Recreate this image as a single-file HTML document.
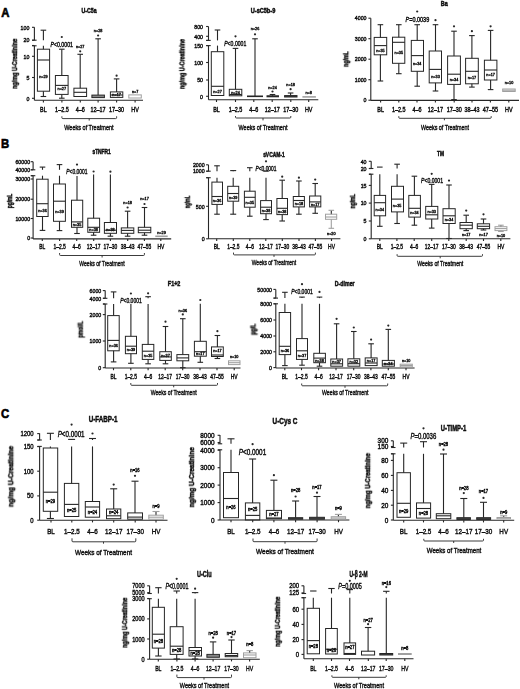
<!DOCTYPE html><html><head><meta charset="utf-8"><style>html,body{margin:0;padding:0;background:#fff;}svg{display:block;} text{font-family:"Liberation Sans",sans-serif;}</style></head><body>
<svg width="520" height="689" viewBox="0 0 520 689">
<defs><filter id="tb" x="-20%" y="-40%" width="140%" height="180%"><feGaussianBlur stdDeviation="0.3"/></filter></defs>
<rect x="0" y="0" width="520" height="689" fill="#fff"/>
<text transform="translate(5.30 16.94) scale(0.9 1)" font-size="12.6" font-weight="bold" text-anchor="middle" fill="#000" stroke="#000" stroke-width="0.6">A</text>
<text transform="translate(5.00 148.14) scale(0.9 1)" font-size="12.6" font-weight="bold" text-anchor="middle" fill="#000" stroke="#000" stroke-width="0.6">B</text>
<text transform="translate(5.00 417.84) scale(0.9 1)" font-size="12.6" font-weight="bold" text-anchor="middle" fill="#000" stroke="#000" stroke-width="0.6">C</text>
<line x1="34.40" y1="45.80" x2="34.40" y2="100.30" stroke="#262626" stroke-width="1.1"/>
<line x1="34.40" y1="27.30" x2="34.40" y2="40.20" stroke="#262626" stroke-width="1.1"/>
<line x1="32.20" y1="40.20" x2="36.60" y2="40.20" stroke="#262626" stroke-width="1.1"/>
<line x1="32.20" y1="45.80" x2="36.60" y2="45.80" stroke="#262626" stroke-width="1.1"/>
<line x1="32.00" y1="27.30" x2="34.40" y2="27.30" stroke="#262626" stroke-width="1.1"/>
<text transform="translate(29.40 29.53) scale(0.85 1)" font-size="6.2" font-weight="normal" font-style="normal" text-anchor="end" fill="#111" stroke="#111" stroke-width="0.42" filter="url(#tb)">100</text>
<line x1="32.00" y1="40.20" x2="34.40" y2="40.20" stroke="#262626" stroke-width="1.1"/>
<text transform="translate(29.40 42.43) scale(0.85 1)" font-size="6.2" font-weight="normal" font-style="normal" text-anchor="end" fill="#111" stroke="#111" stroke-width="0.42" filter="url(#tb)">20</text>
<line x1="32.00" y1="45.50" x2="34.40" y2="45.50" stroke="#262626" stroke-width="1.1"/>
<line x1="32.00" y1="56.30" x2="34.40" y2="56.30" stroke="#262626" stroke-width="1.1"/>
<text transform="translate(29.40 58.53) scale(0.85 1)" font-size="6.2" font-weight="normal" font-style="normal" text-anchor="end" fill="#111" stroke="#111" stroke-width="0.42" filter="url(#tb)">10</text>
<line x1="32.00" y1="77.50" x2="34.40" y2="77.50" stroke="#262626" stroke-width="1.1"/>
<text transform="translate(29.40 79.73) scale(0.85 1)" font-size="6.2" font-weight="normal" font-style="normal" text-anchor="end" fill="#111" stroke="#111" stroke-width="0.42" filter="url(#tb)">5</text>
<line x1="32.00" y1="98.30" x2="34.40" y2="98.30" stroke="#262626" stroke-width="1.1"/>
<text transform="translate(29.40 100.53) scale(0.85 1)" font-size="6.2" font-weight="normal" font-style="normal" text-anchor="end" fill="#111" stroke="#111" stroke-width="0.42" filter="url(#tb)">0</text>
<line x1="34.40" y1="100.30" x2="143.00" y2="100.30" stroke="#262626" stroke-width="1.1"/>
<line x1="43.40" y1="100.30" x2="43.40" y2="102.50" stroke="#262626" stroke-width="1.1"/>
<text transform="translate(43.40 111.80) scale(0.85 1)" font-size="6.4" font-weight="normal" font-style="normal" text-anchor="middle" fill="#111" stroke="#111" stroke-width="0.42" filter="url(#tb)">BL</text>
<line x1="61.90" y1="100.30" x2="61.90" y2="102.50" stroke="#262626" stroke-width="1.1"/>
<text transform="translate(61.90 111.80) scale(0.85 1)" font-size="6.4" font-weight="normal" font-style="normal" text-anchor="middle" fill="#111" stroke="#111" stroke-width="0.42" filter="url(#tb)">1–2.5</text>
<line x1="80.30" y1="100.30" x2="80.30" y2="102.50" stroke="#262626" stroke-width="1.1"/>
<text transform="translate(80.30 111.80) scale(0.85 1)" font-size="6.4" font-weight="normal" font-style="normal" text-anchor="middle" fill="#111" stroke="#111" stroke-width="0.42" filter="url(#tb)">4–6</text>
<line x1="98.10" y1="100.30" x2="98.10" y2="102.50" stroke="#262626" stroke-width="1.1"/>
<text transform="translate(98.10 111.80) scale(0.85 1)" font-size="6.4" font-weight="normal" font-style="normal" text-anchor="middle" fill="#111" stroke="#111" stroke-width="0.42" filter="url(#tb)">12–17</text>
<line x1="116.60" y1="100.30" x2="116.60" y2="102.50" stroke="#262626" stroke-width="1.1"/>
<text transform="translate(116.60 111.80) scale(0.85 1)" font-size="6.4" font-weight="normal" font-style="normal" text-anchor="middle" fill="#111" stroke="#111" stroke-width="0.42" filter="url(#tb)">17–30</text>
<line x1="135.10" y1="100.30" x2="135.10" y2="102.50" stroke="#262626" stroke-width="1.1"/>
<text transform="translate(135.10 111.80) scale(0.85 1)" font-size="6.4" font-weight="normal" font-style="normal" text-anchor="middle" fill="#111" stroke="#111" stroke-width="0.42" filter="url(#tb)">HV</text>
<line x1="43.40" y1="30.20" x2="43.40" y2="40.20" stroke="#262626" stroke-width="1.1"/>
<line x1="43.40" y1="45.80" x2="43.40" y2="49.20" stroke="#262626" stroke-width="1.1"/>
<line x1="40.60" y1="30.20" x2="46.20" y2="30.20" stroke="#262626" stroke-width="1.1"/>
<line x1="43.40" y1="91.20" x2="43.40" y2="96.50" stroke="#262626" stroke-width="1.1"/>
<line x1="40.60" y1="96.50" x2="46.20" y2="96.50" stroke="#262626" stroke-width="1.1"/>
<rect x="37.40" y="49.20" width="12.20" height="42.00" stroke="#262626" stroke-width="1.0" fill="none"/>
<line x1="37.40" y1="60.00" x2="49.60" y2="60.00" stroke="#262626" stroke-width="1.1"/>
<text transform="translate(43.40 78.01) scale(0.9 1)" font-size="4.2" font-weight="normal" font-style="normal" text-anchor="middle" fill="#111" stroke="#111" stroke-width="0.42" filter="url(#tb)">n=29</text>
<line x1="61.80" y1="49.20" x2="61.80" y2="75.50" stroke="#262626" stroke-width="1.1"/>
<line x1="59.00" y1="49.20" x2="64.60" y2="49.20" stroke="#262626" stroke-width="1.1"/>
<line x1="61.80" y1="94.40" x2="61.80" y2="98.20" stroke="#262626" stroke-width="1.1"/>
<line x1="59.00" y1="98.20" x2="64.60" y2="98.20" stroke="#262626" stroke-width="1.1"/>
<rect x="55.40" y="75.50" width="12.70" height="18.90" stroke="#262626" stroke-width="1.0" fill="none"/>
<line x1="55.40" y1="85.40" x2="68.10" y2="85.40" stroke="#262626" stroke-width="1.1"/>
<circle cx="61.80" cy="37.00" r="1.1" fill="#262626"/>
<text transform="translate(61.80 90.11) scale(0.9 1)" font-size="4.2" font-weight="normal" font-style="normal" text-anchor="middle" fill="#111" stroke="#111" stroke-width="0.42" filter="url(#tb)">n=27</text>
<line x1="80.20" y1="54.30" x2="80.20" y2="88.20" stroke="#262626" stroke-width="1.1"/>
<line x1="77.40" y1="54.30" x2="83.00" y2="54.30" stroke="#262626" stroke-width="1.1"/>
<rect x="73.90" y="88.20" width="12.70" height="8.30" stroke="#262626" stroke-width="1.0" fill="none"/>
<line x1="73.90" y1="92.30" x2="86.60" y2="92.30" stroke="#262626" stroke-width="1.1"/>
<circle cx="80.20" cy="51.30" r="1.1" fill="#262626"/>
<text transform="translate(80.20 47.51) scale(0.9 1)" font-size="4.2" font-weight="normal" font-style="normal" text-anchor="middle" fill="#111" stroke="#111" stroke-width="0.42" filter="url(#tb)">n=27</text>
<line x1="98.10" y1="38.80" x2="98.10" y2="95.10" stroke="#262626" stroke-width="1.1"/>
<line x1="95.30" y1="38.80" x2="100.90" y2="38.80" stroke="#262626" stroke-width="1.1"/>
<rect x="91.90" y="95.10" width="12.50" height="2.50" stroke="#262626" stroke-width="1.0" fill="#888"/>
<circle cx="98.10" cy="35.50" r="1.1" fill="#262626"/>
<text transform="translate(98.10 32.01) scale(0.9 1)" font-size="4.2" font-weight="normal" font-style="normal" text-anchor="middle" fill="#111" stroke="#111" stroke-width="0.42" filter="url(#tb)">n=28</text>
<line x1="116.60" y1="78.90" x2="116.60" y2="91.90" stroke="#262626" stroke-width="1.1"/>
<line x1="113.80" y1="78.90" x2="119.40" y2="78.90" stroke="#262626" stroke-width="1.1"/>
<rect x="110.40" y="91.90" width="12.40" height="5.50" stroke="#262626" stroke-width="1.0" fill="none"/>
<line x1="110.40" y1="95.00" x2="122.80" y2="95.00" stroke="#262626" stroke-width="1.1"/>
<circle cx="116.60" cy="75.70" r="1.1" fill="#262626"/>
<text transform="translate(116.60 95.81) scale(0.9 1)" font-size="4.2" font-weight="normal" font-style="normal" text-anchor="middle" fill="#111" stroke="#111" stroke-width="0.42" filter="url(#tb)">n=17</text>
<rect x="128.80" y="94.90" width="12.50" height="3.10" stroke="#a0a0a0" stroke-width="1.0" fill="none"/>
<text transform="translate(135.10 93.11) scale(0.9 1)" font-size="4.2" font-weight="normal" font-style="normal" text-anchor="middle" fill="#111" stroke="#111" stroke-width="0.42" filter="url(#tb)">n=7</text>
<path d="M61.90 116.30 L61.90 117.80 Q61.90 118.60 62.90 118.60 L115.60 118.60 Q116.60 118.60 116.60 117.80 L116.60 116.30 M89.20 118.60 L89.20 120.60" stroke="#262626" stroke-width="0.9" fill="none"/>
<text transform="translate(88.90 129.54) scale(1.0 1)" font-size="7.6" font-weight="normal" font-style="normal" text-anchor="middle" fill="#111" stroke="#111" stroke-width="0.42" filter="url(#tb)" textLength="49.40" lengthAdjust="spacingAndGlyphs">Weeks of Treatment</text>
<text transform="translate(89.10 12.85) scale(1.0 1)" font-size="6.8" font-weight="bold" font-style="normal" text-anchor="middle" fill="#111" stroke="#111" stroke-width="0.5" filter="url(#tb)" textLength="15.00" lengthAdjust="spacingAndGlyphs">U-C5a</text>
<text transform="translate(17.05 63.70) rotate(-90) scale(1.0 1)" font-size="6.8" font-weight="bold" font-style="normal" text-anchor="middle" fill="#111" stroke="#111" stroke-width="0.5" filter="url(#tb)" textLength="50.00" lengthAdjust="spacingAndGlyphs">ng/mg U-Creatinine</text>
<text transform="translate(50.40 47.12)" font-size="7.0" fill="#111" stroke="#111" stroke-width="0.42" filter="url(#tb)" textLength="22.60" lengthAdjust="spacingAndGlyphs"><tspan font-style="italic">P</tspan>&lt;0.0001</text>
<line x1="208.50" y1="45.60" x2="208.50" y2="99.80" stroke="#262626" stroke-width="1.1"/>
<line x1="208.50" y1="26.50" x2="208.50" y2="40.40" stroke="#262626" stroke-width="1.1"/>
<line x1="206.30" y1="40.40" x2="210.70" y2="40.40" stroke="#262626" stroke-width="1.1"/>
<line x1="206.30" y1="45.60" x2="210.70" y2="45.60" stroke="#262626" stroke-width="1.1"/>
<line x1="206.10" y1="26.50" x2="208.50" y2="26.50" stroke="#262626" stroke-width="1.1"/>
<text transform="translate(203.00 28.73) scale(0.85 1)" font-size="6.2" font-weight="normal" font-style="normal" text-anchor="end" fill="#111" stroke="#111" stroke-width="0.42" filter="url(#tb)">800</text>
<line x1="206.10" y1="36.30" x2="208.50" y2="36.30" stroke="#262626" stroke-width="1.1"/>
<text transform="translate(203.00 38.53) scale(0.85 1)" font-size="6.2" font-weight="normal" font-style="normal" text-anchor="end" fill="#111" stroke="#111" stroke-width="0.42" filter="url(#tb)">400</text>
<line x1="206.10" y1="40.40" x2="208.50" y2="40.40" stroke="#262626" stroke-width="1.1"/>
<line x1="206.10" y1="45.60" x2="208.50" y2="45.60" stroke="#262626" stroke-width="1.1"/>
<text transform="translate(203.00 47.83) scale(0.85 1)" font-size="6.2" font-weight="normal" font-style="normal" text-anchor="end" fill="#111" stroke="#111" stroke-width="0.42" filter="url(#tb)">150</text>
<line x1="206.10" y1="62.50" x2="208.50" y2="62.50" stroke="#262626" stroke-width="1.1"/>
<text transform="translate(203.00 64.73) scale(0.85 1)" font-size="6.2" font-weight="normal" font-style="normal" text-anchor="end" fill="#111" stroke="#111" stroke-width="0.42" filter="url(#tb)">100</text>
<line x1="206.10" y1="80.00" x2="208.50" y2="80.00" stroke="#262626" stroke-width="1.1"/>
<text transform="translate(203.00 82.23) scale(0.85 1)" font-size="6.2" font-weight="normal" font-style="normal" text-anchor="end" fill="#111" stroke="#111" stroke-width="0.42" filter="url(#tb)">50</text>
<line x1="206.10" y1="96.30" x2="208.50" y2="96.30" stroke="#262626" stroke-width="1.1"/>
<text transform="translate(203.00 98.53) scale(0.85 1)" font-size="6.2" font-weight="normal" font-style="normal" text-anchor="end" fill="#111" stroke="#111" stroke-width="0.42" filter="url(#tb)">0</text>
<line x1="208.50" y1="99.80" x2="318.30" y2="99.80" stroke="#262626" stroke-width="1.1"/>
<line x1="216.50" y1="99.80" x2="216.50" y2="102.00" stroke="#262626" stroke-width="1.1"/>
<text transform="translate(216.50 111.50) scale(0.85 1)" font-size="6.4" font-weight="normal" font-style="normal" text-anchor="middle" fill="#111" stroke="#111" stroke-width="0.42" filter="url(#tb)">BL</text>
<line x1="235.50" y1="99.80" x2="235.50" y2="102.00" stroke="#262626" stroke-width="1.1"/>
<text transform="translate(235.50 111.50) scale(0.85 1)" font-size="6.4" font-weight="normal" font-style="normal" text-anchor="middle" fill="#111" stroke="#111" stroke-width="0.42" filter="url(#tb)">1–2.5</text>
<line x1="253.80" y1="99.80" x2="253.80" y2="102.00" stroke="#262626" stroke-width="1.1"/>
<text transform="translate(253.80 111.50) scale(0.85 1)" font-size="6.4" font-weight="normal" font-style="normal" text-anchor="middle" fill="#111" stroke="#111" stroke-width="0.42" filter="url(#tb)">4–6</text>
<line x1="272.20" y1="99.80" x2="272.20" y2="102.00" stroke="#262626" stroke-width="1.1"/>
<text transform="translate(272.20 111.50) scale(0.85 1)" font-size="6.4" font-weight="normal" font-style="normal" text-anchor="middle" fill="#111" stroke="#111" stroke-width="0.42" filter="url(#tb)">12–17</text>
<line x1="290.80" y1="99.80" x2="290.80" y2="102.00" stroke="#262626" stroke-width="1.1"/>
<text transform="translate(290.80 111.50) scale(0.85 1)" font-size="6.4" font-weight="normal" font-style="normal" text-anchor="middle" fill="#111" stroke="#111" stroke-width="0.42" filter="url(#tb)">17–30</text>
<line x1="308.70" y1="99.80" x2="308.70" y2="102.00" stroke="#262626" stroke-width="1.1"/>
<text transform="translate(308.70 111.50) scale(0.85 1)" font-size="6.4" font-weight="normal" font-style="normal" text-anchor="middle" fill="#111" stroke="#111" stroke-width="0.42" filter="url(#tb)">HV</text>
<line x1="217.50" y1="30.00" x2="217.50" y2="40.40" stroke="#262626" stroke-width="1.1"/>
<line x1="217.50" y1="45.60" x2="217.50" y2="51.70" stroke="#262626" stroke-width="1.1"/>
<line x1="214.70" y1="30.00" x2="220.30" y2="30.00" stroke="#262626" stroke-width="1.1"/>
<rect x="211.30" y="51.70" width="12.50" height="43.80" stroke="#262626" stroke-width="1.0" fill="none"/>
<line x1="211.30" y1="86.30" x2="223.80" y2="86.30" stroke="#262626" stroke-width="1.1"/>
<text transform="translate(217.50 92.81) scale(0.9 1)" font-size="4.2" font-weight="normal" font-style="normal" text-anchor="middle" fill="#111" stroke="#111" stroke-width="0.42" filter="url(#tb)">n=27</text>
<line x1="235.50" y1="48.40" x2="235.50" y2="89.30" stroke="#262626" stroke-width="1.1"/>
<line x1="232.70" y1="48.40" x2="238.30" y2="48.40" stroke="#262626" stroke-width="1.1"/>
<rect x="229.30" y="89.30" width="12.50" height="6.50" stroke="#262626" stroke-width="1.0" fill="none"/>
<line x1="229.30" y1="94.50" x2="241.80" y2="94.50" stroke="#262626" stroke-width="1.1"/>
<circle cx="235.50" cy="36.30" r="1.1" fill="#262626"/>
<text transform="translate(235.50 94.01) scale(0.9 1)" font-size="4.2" font-weight="normal" font-style="normal" text-anchor="middle" fill="#111" stroke="#111" stroke-width="0.42" filter="url(#tb)">n=24</text>
<line x1="255.00" y1="38.80" x2="255.00" y2="96.00" stroke="#262626" stroke-width="1.1"/>
<line x1="252.20" y1="38.80" x2="257.80" y2="38.80" stroke="#262626" stroke-width="1.1"/>
<rect x="247.50" y="96.00" width="15.00" height="0.60" stroke="#262626" stroke-width="1.0" fill="#444"/>
<circle cx="255.00" cy="34.30" r="1.1" fill="#262626"/>
<text transform="translate(255.00 30.31) scale(0.9 1)" font-size="4.2" font-weight="normal" font-style="normal" text-anchor="middle" fill="#111" stroke="#111" stroke-width="0.42" filter="url(#tb)">n=26</text>
<line x1="272.50" y1="94.50" x2="272.50" y2="95.80" stroke="#262626" stroke-width="1.1"/>
<line x1="269.70" y1="94.50" x2="275.30" y2="94.50" stroke="#262626" stroke-width="1.1"/>
<rect x="267.00" y="95.80" width="11.50" height="1.00" stroke="#262626" stroke-width="1.0" fill="#444"/>
<circle cx="272.50" cy="91.50" r="1.1" fill="#262626"/>
<text transform="translate(272.50 89.21) scale(0.9 1)" font-size="4.2" font-weight="normal" font-style="normal" text-anchor="middle" fill="#111" stroke="#111" stroke-width="0.42" filter="url(#tb)">n=24</text>
<line x1="290.60" y1="93.00" x2="290.60" y2="95.60" stroke="#262626" stroke-width="1.1"/>
<line x1="287.80" y1="93.00" x2="293.40" y2="93.00" stroke="#262626" stroke-width="1.1"/>
<rect x="284.60" y="95.60" width="12.40" height="1.40" stroke="#262626" stroke-width="1.0" fill="#444"/>
<circle cx="290.60" cy="89.20" r="1.1" fill="#262626"/>
<text transform="translate(290.60 85.91) scale(0.9 1)" font-size="4.2" font-weight="normal" font-style="normal" text-anchor="middle" fill="#111" stroke="#111" stroke-width="0.42" filter="url(#tb)">n=18</text>
<rect x="302.90" y="96.60" width="12.50" height="0.60" stroke="#a0a0a0" stroke-width="1.0" fill="none"/>
<text transform="translate(308.70 93.51) scale(0.9 1)" font-size="4.2" font-weight="normal" font-style="normal" text-anchor="middle" fill="#111" stroke="#111" stroke-width="0.42" filter="url(#tb)">n=8</text>
<path d="M235.50 116.00 L235.50 117.20 Q235.50 118.00 236.50 118.00 L289.80 118.00 Q290.80 118.00 290.80 117.20 L290.80 116.00 M263.00 118.00 L263.00 120.40" stroke="#262626" stroke-width="0.9" fill="none"/>
<text transform="translate(263.00 129.84) scale(1.0 1)" font-size="7.6" font-weight="normal" font-style="normal" text-anchor="middle" fill="#111" stroke="#111" stroke-width="0.42" filter="url(#tb)" textLength="49.00" lengthAdjust="spacingAndGlyphs">Weeks of Treatment</text>
<text transform="translate(263.00 13.05) scale(1.0 1)" font-size="6.8" font-weight="bold" font-style="normal" text-anchor="middle" fill="#111" stroke="#111" stroke-width="0.5" filter="url(#tb)" textLength="24.50" lengthAdjust="spacingAndGlyphs">U-sC5b-9</text>
<text transform="translate(184.45 64.00) rotate(-90) scale(1.0 1)" font-size="6.8" font-weight="bold" font-style="normal" text-anchor="middle" fill="#111" stroke="#111" stroke-width="0.5" filter="url(#tb)" textLength="50.00" lengthAdjust="spacingAndGlyphs">ng/mg U-Creatinine</text>
<text transform="translate(224.20 46.02)" font-size="7.0" fill="#111" stroke="#111" stroke-width="0.42" filter="url(#tb)" textLength="22.10" lengthAdjust="spacingAndGlyphs"><tspan font-style="italic">P</tspan>&lt;0.0001</text>
<line x1="370.80" y1="18.20" x2="370.80" y2="100.40" stroke="#262626" stroke-width="1.1"/>
<line x1="368.40" y1="18.20" x2="370.80" y2="18.20" stroke="#262626" stroke-width="1.1"/>
<text transform="translate(366.50 20.43) scale(0.85 1)" font-size="6.2" font-weight="normal" font-style="normal" text-anchor="end" fill="#111" stroke="#111" stroke-width="0.42" filter="url(#tb)">4000</text>
<line x1="368.40" y1="38.70" x2="370.80" y2="38.70" stroke="#262626" stroke-width="1.1"/>
<text transform="translate(366.50 40.93) scale(0.85 1)" font-size="6.2" font-weight="normal" font-style="normal" text-anchor="end" fill="#111" stroke="#111" stroke-width="0.42" filter="url(#tb)">3000</text>
<line x1="368.40" y1="59.20" x2="370.80" y2="59.20" stroke="#262626" stroke-width="1.1"/>
<text transform="translate(366.50 61.43) scale(0.85 1)" font-size="6.2" font-weight="normal" font-style="normal" text-anchor="end" fill="#111" stroke="#111" stroke-width="0.42" filter="url(#tb)">2000</text>
<line x1="368.40" y1="79.70" x2="370.80" y2="79.70" stroke="#262626" stroke-width="1.1"/>
<text transform="translate(366.50 81.93) scale(0.85 1)" font-size="6.2" font-weight="normal" font-style="normal" text-anchor="end" fill="#111" stroke="#111" stroke-width="0.42" filter="url(#tb)">1000</text>
<line x1="368.40" y1="100.20" x2="370.80" y2="100.20" stroke="#262626" stroke-width="1.1"/>
<text transform="translate(366.50 102.43) scale(0.85 1)" font-size="6.2" font-weight="normal" font-style="normal" text-anchor="end" fill="#111" stroke="#111" stroke-width="0.42" filter="url(#tb)">0</text>
<line x1="370.80" y1="100.40" x2="519.00" y2="100.40" stroke="#262626" stroke-width="1.1"/>
<line x1="380.60" y1="100.40" x2="380.60" y2="102.60" stroke="#262626" stroke-width="1.1"/>
<text transform="translate(380.60 111.80) scale(0.85 1)" font-size="6.4" font-weight="normal" font-style="normal" text-anchor="middle" fill="#111" stroke="#111" stroke-width="0.42" filter="url(#tb)">BL</text>
<line x1="398.80" y1="100.40" x2="398.80" y2="102.60" stroke="#262626" stroke-width="1.1"/>
<text transform="translate(398.80 111.80) scale(0.85 1)" font-size="6.4" font-weight="normal" font-style="normal" text-anchor="middle" fill="#111" stroke="#111" stroke-width="0.42" filter="url(#tb)">1–2.5</text>
<line x1="417.00" y1="100.40" x2="417.00" y2="102.60" stroke="#262626" stroke-width="1.1"/>
<text transform="translate(417.00 111.80) scale(0.85 1)" font-size="6.4" font-weight="normal" font-style="normal" text-anchor="middle" fill="#111" stroke="#111" stroke-width="0.42" filter="url(#tb)">4–6</text>
<line x1="435.40" y1="100.40" x2="435.40" y2="102.60" stroke="#262626" stroke-width="1.1"/>
<text transform="translate(435.40 111.80) scale(0.85 1)" font-size="6.4" font-weight="normal" font-style="normal" text-anchor="middle" fill="#111" stroke="#111" stroke-width="0.42" filter="url(#tb)">12–17</text>
<line x1="454.20" y1="100.40" x2="454.20" y2="102.60" stroke="#262626" stroke-width="1.1"/>
<text transform="translate(454.20 111.80) scale(0.85 1)" font-size="6.4" font-weight="normal" font-style="normal" text-anchor="middle" fill="#111" stroke="#111" stroke-width="0.42" filter="url(#tb)">17–30</text>
<line x1="472.00" y1="100.40" x2="472.00" y2="102.60" stroke="#262626" stroke-width="1.1"/>
<text transform="translate(472.00 111.80) scale(0.85 1)" font-size="6.4" font-weight="normal" font-style="normal" text-anchor="middle" fill="#111" stroke="#111" stroke-width="0.42" filter="url(#tb)">38–43</text>
<line x1="490.40" y1="100.40" x2="490.40" y2="102.60" stroke="#262626" stroke-width="1.1"/>
<text transform="translate(490.40 111.80) scale(0.85 1)" font-size="6.4" font-weight="normal" font-style="normal" text-anchor="middle" fill="#111" stroke="#111" stroke-width="0.42" filter="url(#tb)">47–55</text>
<line x1="508.80" y1="100.40" x2="508.80" y2="102.60" stroke="#262626" stroke-width="1.1"/>
<text transform="translate(508.80 111.80) scale(0.85 1)" font-size="6.4" font-weight="normal" font-style="normal" text-anchor="middle" fill="#111" stroke="#111" stroke-width="0.42" filter="url(#tb)">HV</text>
<line x1="380.40" y1="24.70" x2="380.40" y2="37.40" stroke="#262626" stroke-width="1.1"/>
<line x1="377.60" y1="24.70" x2="383.20" y2="24.70" stroke="#262626" stroke-width="1.1"/>
<line x1="380.40" y1="54.80" x2="380.40" y2="81.00" stroke="#262626" stroke-width="1.1"/>
<line x1="377.60" y1="81.00" x2="383.20" y2="81.00" stroke="#262626" stroke-width="1.1"/>
<rect x="374.20" y="37.40" width="12.50" height="17.40" stroke="#262626" stroke-width="1.0" fill="none"/>
<line x1="374.20" y1="45.60" x2="386.70" y2="45.60" stroke="#262626" stroke-width="1.1"/>
<text transform="translate(380.40 51.91) scale(0.9 1)" font-size="4.2" font-weight="normal" font-style="normal" text-anchor="middle" fill="#111" stroke="#111" stroke-width="0.42" filter="url(#tb)">n=35</text>
<line x1="398.80" y1="24.70" x2="398.80" y2="37.20" stroke="#262626" stroke-width="1.1"/>
<line x1="396.00" y1="24.70" x2="401.60" y2="24.70" stroke="#262626" stroke-width="1.1"/>
<line x1="398.80" y1="63.30" x2="398.80" y2="73.70" stroke="#262626" stroke-width="1.1"/>
<line x1="396.00" y1="73.70" x2="401.60" y2="73.70" stroke="#262626" stroke-width="1.1"/>
<rect x="392.50" y="37.20" width="12.30" height="26.10" stroke="#262626" stroke-width="1.0" fill="none"/>
<line x1="392.50" y1="42.30" x2="404.80" y2="42.30" stroke="#262626" stroke-width="1.1"/>
<text transform="translate(398.80 54.41) scale(0.9 1)" font-size="4.2" font-weight="normal" font-style="normal" text-anchor="middle" fill="#111" stroke="#111" stroke-width="0.42" filter="url(#tb)">n=35</text>
<line x1="417.20" y1="24.70" x2="417.20" y2="40.40" stroke="#262626" stroke-width="1.1"/>
<line x1="414.40" y1="24.70" x2="420.00" y2="24.70" stroke="#262626" stroke-width="1.1"/>
<line x1="417.20" y1="71.30" x2="417.20" y2="86.20" stroke="#262626" stroke-width="1.1"/>
<line x1="414.40" y1="86.20" x2="420.00" y2="86.20" stroke="#262626" stroke-width="1.1"/>
<rect x="411.30" y="40.40" width="12.20" height="30.90" stroke="#262626" stroke-width="1.0" fill="none"/>
<line x1="411.30" y1="55.60" x2="423.50" y2="55.60" stroke="#262626" stroke-width="1.1"/>
<circle cx="417.20" cy="11.50" r="1.1" fill="#262626"/>
<text transform="translate(417.20 64.51) scale(0.9 1)" font-size="4.2" font-weight="normal" font-style="normal" text-anchor="middle" fill="#111" stroke="#111" stroke-width="0.42" filter="url(#tb)">n=34</text>
<line x1="435.50" y1="24.70" x2="435.50" y2="51.00" stroke="#262626" stroke-width="1.1"/>
<line x1="432.70" y1="24.70" x2="438.30" y2="24.70" stroke="#262626" stroke-width="1.1"/>
<line x1="435.50" y1="82.90" x2="435.50" y2="91.00" stroke="#262626" stroke-width="1.1"/>
<line x1="432.70" y1="91.00" x2="438.30" y2="91.00" stroke="#262626" stroke-width="1.1"/>
<rect x="429.20" y="51.00" width="12.30" height="31.90" stroke="#262626" stroke-width="1.0" fill="none"/>
<line x1="429.20" y1="69.40" x2="441.50" y2="69.40" stroke="#262626" stroke-width="1.1"/>
<circle cx="435.50" cy="20.20" r="1.1" fill="#262626"/>
<text transform="translate(435.50 77.71) scale(0.9 1)" font-size="4.2" font-weight="normal" font-style="normal" text-anchor="middle" fill="#111" stroke="#111" stroke-width="0.42" filter="url(#tb)">n=33</text>
<line x1="454.00" y1="31.20" x2="454.00" y2="56.00" stroke="#262626" stroke-width="1.1"/>
<line x1="451.20" y1="31.20" x2="456.80" y2="31.20" stroke="#262626" stroke-width="1.1"/>
<line x1="454.00" y1="84.40" x2="454.00" y2="99.60" stroke="#262626" stroke-width="1.1"/>
<line x1="451.20" y1="99.60" x2="456.80" y2="99.60" stroke="#262626" stroke-width="1.1"/>
<rect x="447.60" y="56.00" width="12.80" height="28.40" stroke="#262626" stroke-width="1.0" fill="none"/>
<line x1="447.60" y1="74.20" x2="460.40" y2="74.20" stroke="#262626" stroke-width="1.1"/>
<circle cx="454.00" cy="26.30" r="1.1" fill="#262626"/>
<text transform="translate(454.00 80.91) scale(0.9 1)" font-size="4.2" font-weight="normal" font-style="normal" text-anchor="middle" fill="#111" stroke="#111" stroke-width="0.42" filter="url(#tb)">n=34</text>
<line x1="471.90" y1="35.60" x2="471.90" y2="58.30" stroke="#262626" stroke-width="1.1"/>
<line x1="469.10" y1="35.60" x2="474.70" y2="35.60" stroke="#262626" stroke-width="1.1"/>
<line x1="471.90" y1="83.80" x2="471.90" y2="87.10" stroke="#262626" stroke-width="1.1"/>
<line x1="469.10" y1="87.10" x2="474.70" y2="87.10" stroke="#262626" stroke-width="1.1"/>
<rect x="465.60" y="58.30" width="12.70" height="25.50" stroke="#262626" stroke-width="1.0" fill="none"/>
<line x1="465.60" y1="71.30" x2="478.30" y2="71.30" stroke="#262626" stroke-width="1.1"/>
<circle cx="471.90" cy="31.20" r="1.1" fill="#262626"/>
<text transform="translate(471.90 78.61) scale(0.9 1)" font-size="4.2" font-weight="normal" font-style="normal" text-anchor="middle" fill="#111" stroke="#111" stroke-width="0.42" filter="url(#tb)">n=17</text>
<line x1="490.60" y1="30.40" x2="490.60" y2="60.20" stroke="#262626" stroke-width="1.1"/>
<line x1="487.80" y1="30.40" x2="493.40" y2="30.40" stroke="#262626" stroke-width="1.1"/>
<line x1="490.60" y1="80.00" x2="490.60" y2="89.60" stroke="#262626" stroke-width="1.1"/>
<line x1="487.80" y1="89.60" x2="493.40" y2="89.60" stroke="#262626" stroke-width="1.1"/>
<rect x="484.40" y="60.20" width="12.50" height="19.80" stroke="#262626" stroke-width="1.0" fill="none"/>
<line x1="484.40" y1="70.00" x2="496.90" y2="70.00" stroke="#262626" stroke-width="1.1"/>
<circle cx="490.60" cy="26.30" r="1.1" fill="#262626"/>
<text transform="translate(490.60 76.31) scale(0.9 1)" font-size="4.2" font-weight="normal" font-style="normal" text-anchor="middle" fill="#111" stroke="#111" stroke-width="0.42" filter="url(#tb)">n=17</text>
<rect x="502.70" y="89.00" width="12.50" height="2.50" stroke="#a0a0a0" stroke-width="1.0" fill="none"/>
<line x1="502.70" y1="90.20" x2="515.20" y2="90.20" stroke="#a0a0a0" stroke-width="1.1"/>
<text transform="translate(509.00 84.41) scale(0.9 1)" font-size="4.2" font-weight="normal" font-style="normal" text-anchor="middle" fill="#111" stroke="#111" stroke-width="0.42" filter="url(#tb)">n=10</text>
<path d="M398.80 116.20 L398.80 117.50 Q398.80 118.30 399.80 118.30 L490.20 118.30 Q491.20 118.30 491.20 117.50 L491.20 116.20 M444.40 118.30 L444.40 120.30" stroke="#262626" stroke-width="0.9" fill="none"/>
<text transform="translate(445.00 129.84) scale(1.0 1)" font-size="7.6" font-weight="normal" font-style="normal" text-anchor="middle" fill="#111" stroke="#111" stroke-width="0.42" filter="url(#tb)" textLength="48.00" lengthAdjust="spacingAndGlyphs">Weeks of Treatment</text>
<text transform="translate(444.30 6.25) scale(1.0 1)" font-size="6.8" font-weight="bold" font-style="normal" text-anchor="middle" fill="#111" stroke="#111" stroke-width="0.5" filter="url(#tb)" textLength="7.00" lengthAdjust="spacingAndGlyphs">Ba</text>
<text transform="translate(348.25 59.10) rotate(-90) scale(1.0 1)" font-size="6.8" font-weight="bold" font-style="normal" text-anchor="middle" fill="#111" stroke="#111" stroke-width="0.5" filter="url(#tb)" textLength="15.60" lengthAdjust="spacingAndGlyphs">ng/mL</text>
<text transform="translate(405.60 21.72)" font-size="7.0" fill="#111" stroke="#111" stroke-width="0.42" filter="url(#tb)" textLength="23.60" lengthAdjust="spacingAndGlyphs"><tspan font-style="italic">P</tspan>=0.0039</text>
<line x1="33.10" y1="175.70" x2="33.10" y2="238.90" stroke="#262626" stroke-width="1.1"/>
<line x1="33.10" y1="161.70" x2="33.10" y2="169.80" stroke="#262626" stroke-width="1.1"/>
<line x1="30.90" y1="169.80" x2="35.30" y2="169.80" stroke="#262626" stroke-width="1.1"/>
<line x1="30.90" y1="175.70" x2="35.30" y2="175.70" stroke="#262626" stroke-width="1.1"/>
<line x1="30.70" y1="161.70" x2="33.10" y2="161.70" stroke="#262626" stroke-width="1.1"/>
<text transform="translate(30.10 163.93) scale(0.85 1)" font-size="6.2" font-weight="normal" font-style="normal" text-anchor="end" fill="#111" stroke="#111" stroke-width="0.42" filter="url(#tb)">60000</text>
<line x1="30.70" y1="169.80" x2="33.10" y2="169.80" stroke="#262626" stroke-width="1.1"/>
<text transform="translate(30.10 172.03) scale(0.85 1)" font-size="6.2" font-weight="normal" font-style="normal" text-anchor="end" fill="#111" stroke="#111" stroke-width="0.42" filter="url(#tb)">40000</text>
<line x1="30.70" y1="175.70" x2="33.10" y2="175.70" stroke="#262626" stroke-width="1.1"/>
<line x1="30.70" y1="179.00" x2="33.10" y2="179.00" stroke="#262626" stroke-width="1.1"/>
<text transform="translate(30.10 181.23) scale(0.85 1)" font-size="6.2" font-weight="normal" font-style="normal" text-anchor="end" fill="#111" stroke="#111" stroke-width="0.42" filter="url(#tb)">30000</text>
<line x1="30.70" y1="199.20" x2="33.10" y2="199.20" stroke="#262626" stroke-width="1.1"/>
<text transform="translate(30.10 201.43) scale(0.85 1)" font-size="6.2" font-weight="normal" font-style="normal" text-anchor="end" fill="#111" stroke="#111" stroke-width="0.42" filter="url(#tb)">20000</text>
<line x1="30.70" y1="218.50" x2="33.10" y2="218.50" stroke="#262626" stroke-width="1.1"/>
<text transform="translate(30.10 220.73) scale(0.85 1)" font-size="6.2" font-weight="normal" font-style="normal" text-anchor="end" fill="#111" stroke="#111" stroke-width="0.42" filter="url(#tb)">10000</text>
<line x1="30.70" y1="238.00" x2="33.10" y2="238.00" stroke="#262626" stroke-width="1.1"/>
<text transform="translate(30.10 240.23) scale(0.85 1)" font-size="6.2" font-weight="normal" font-style="normal" text-anchor="end" fill="#111" stroke="#111" stroke-width="0.42" filter="url(#tb)">0</text>
<line x1="33.10" y1="238.90" x2="171.20" y2="238.90" stroke="#262626" stroke-width="1.1"/>
<line x1="42.30" y1="238.90" x2="42.30" y2="241.10" stroke="#262626" stroke-width="1.1"/>
<text transform="translate(42.30 249.30) scale(0.77 1)" font-size="6.4" font-weight="normal" font-style="normal" text-anchor="middle" fill="#111" stroke="#111" stroke-width="0.42" filter="url(#tb)">BL</text>
<line x1="59.60" y1="238.90" x2="59.60" y2="241.10" stroke="#262626" stroke-width="1.1"/>
<text transform="translate(59.60 249.30) scale(0.77 1)" font-size="6.4" font-weight="normal" font-style="normal" text-anchor="middle" fill="#111" stroke="#111" stroke-width="0.42" filter="url(#tb)">1–2.5</text>
<line x1="76.70" y1="238.90" x2="76.70" y2="241.10" stroke="#262626" stroke-width="1.1"/>
<text transform="translate(76.70 249.30) scale(0.77 1)" font-size="6.4" font-weight="normal" font-style="normal" text-anchor="middle" fill="#111" stroke="#111" stroke-width="0.42" filter="url(#tb)">4–6</text>
<line x1="93.70" y1="238.90" x2="93.70" y2="241.10" stroke="#262626" stroke-width="1.1"/>
<text transform="translate(93.70 249.30) scale(0.77 1)" font-size="6.4" font-weight="normal" font-style="normal" text-anchor="middle" fill="#111" stroke="#111" stroke-width="0.42" filter="url(#tb)">12–17</text>
<line x1="110.40" y1="238.90" x2="110.40" y2="241.10" stroke="#262626" stroke-width="1.1"/>
<text transform="translate(110.40 249.30) scale(0.77 1)" font-size="6.4" font-weight="normal" font-style="normal" text-anchor="middle" fill="#111" stroke="#111" stroke-width="0.42" filter="url(#tb)">17–30</text>
<line x1="127.70" y1="238.90" x2="127.70" y2="241.10" stroke="#262626" stroke-width="1.1"/>
<text transform="translate(127.70 249.30) scale(0.77 1)" font-size="6.4" font-weight="normal" font-style="normal" text-anchor="middle" fill="#111" stroke="#111" stroke-width="0.42" filter="url(#tb)">38–43</text>
<line x1="144.40" y1="238.90" x2="144.40" y2="241.10" stroke="#262626" stroke-width="1.1"/>
<text transform="translate(144.40 249.30) scale(0.77 1)" font-size="6.4" font-weight="normal" font-style="normal" text-anchor="middle" fill="#111" stroke="#111" stroke-width="0.42" filter="url(#tb)">47–55</text>
<line x1="160.80" y1="238.90" x2="160.80" y2="241.10" stroke="#262626" stroke-width="1.1"/>
<text transform="translate(160.80 249.30) scale(0.77 1)" font-size="6.4" font-weight="normal" font-style="normal" text-anchor="middle" fill="#111" stroke="#111" stroke-width="0.42" filter="url(#tb)">HV</text>
<line x1="42.50" y1="167.10" x2="42.50" y2="169.80" stroke="#262626" stroke-width="1.1"/>
<line x1="42.50" y1="175.70" x2="42.50" y2="179.20" stroke="#262626" stroke-width="1.1"/>
<line x1="39.70" y1="167.10" x2="45.30" y2="167.10" stroke="#262626" stroke-width="1.1"/>
<line x1="42.50" y1="216.50" x2="42.50" y2="230.40" stroke="#262626" stroke-width="1.1"/>
<line x1="39.70" y1="230.40" x2="45.30" y2="230.40" stroke="#262626" stroke-width="1.1"/>
<rect x="36.70" y="179.20" width="11.40" height="37.30" stroke="#262626" stroke-width="1.0" fill="none"/>
<line x1="36.70" y1="203.70" x2="48.10" y2="203.70" stroke="#262626" stroke-width="1.1"/>
<text transform="translate(42.50 211.91) scale(0.9 1)" font-size="4.2" font-weight="normal" font-style="normal" text-anchor="middle" fill="#111" stroke="#111" stroke-width="0.42" filter="url(#tb)">n=36</text>
<line x1="59.50" y1="164.60" x2="59.50" y2="169.80" stroke="#262626" stroke-width="1.1"/>
<line x1="59.50" y1="175.70" x2="59.50" y2="184.00" stroke="#262626" stroke-width="1.1"/>
<line x1="56.70" y1="164.60" x2="62.30" y2="164.60" stroke="#262626" stroke-width="1.1"/>
<line x1="59.50" y1="221.30" x2="59.50" y2="230.60" stroke="#262626" stroke-width="1.1"/>
<line x1="56.70" y1="230.60" x2="62.30" y2="230.60" stroke="#262626" stroke-width="1.1"/>
<rect x="53.50" y="184.00" width="11.90" height="37.30" stroke="#262626" stroke-width="1.0" fill="none"/>
<line x1="53.50" y1="201.20" x2="65.40" y2="201.20" stroke="#262626" stroke-width="1.1"/>
<text transform="translate(59.50 212.81) scale(0.9 1)" font-size="4.2" font-weight="normal" font-style="normal" text-anchor="middle" fill="#111" stroke="#111" stroke-width="0.42" filter="url(#tb)">n=39</text>
<line x1="77.00" y1="176.00" x2="77.00" y2="200.20" stroke="#262626" stroke-width="1.1"/>
<line x1="77.00" y1="227.30" x2="77.00" y2="233.50" stroke="#262626" stroke-width="1.1"/>
<line x1="74.20" y1="233.50" x2="79.80" y2="233.50" stroke="#262626" stroke-width="1.1"/>
<rect x="71.50" y="200.20" width="11.20" height="27.10" stroke="#262626" stroke-width="1.0" fill="none"/>
<line x1="71.50" y1="221.90" x2="82.70" y2="221.90" stroke="#262626" stroke-width="1.1"/>
<circle cx="77.00" cy="164.60" r="1.1" fill="#262626"/>
<text transform="translate(77.00 225.91) scale(0.9 1)" font-size="4.2" font-weight="normal" font-style="normal" text-anchor="middle" fill="#111" stroke="#111" stroke-width="0.42" filter="url(#tb)">n=35</text>
<line x1="93.60" y1="174.50" x2="93.60" y2="218.20" stroke="#262626" stroke-width="1.1"/>
<line x1="93.60" y1="232.30" x2="93.60" y2="235.20" stroke="#262626" stroke-width="1.1"/>
<line x1="90.80" y1="235.20" x2="96.40" y2="235.20" stroke="#262626" stroke-width="1.1"/>
<rect x="87.80" y="218.20" width="11.80" height="14.10" stroke="#262626" stroke-width="1.0" fill="none"/>
<line x1="87.80" y1="227.30" x2="99.60" y2="227.30" stroke="#262626" stroke-width="1.1"/>
<circle cx="93.60" cy="171.50" r="1.1" fill="#262626"/>
<text transform="translate(93.60 231.31) scale(0.9 1)" font-size="4.2" font-weight="normal" font-style="normal" text-anchor="middle" fill="#111" stroke="#111" stroke-width="0.42" filter="url(#tb)">n=38</text>
<line x1="110.40" y1="174.50" x2="110.40" y2="222.50" stroke="#262626" stroke-width="1.1"/>
<line x1="110.40" y1="233.30" x2="110.40" y2="236.20" stroke="#262626" stroke-width="1.1"/>
<line x1="107.60" y1="236.20" x2="113.20" y2="236.20" stroke="#262626" stroke-width="1.1"/>
<rect x="104.40" y="222.50" width="12.10" height="10.80" stroke="#262626" stroke-width="1.0" fill="none"/>
<line x1="104.40" y1="230.20" x2="116.50" y2="230.20" stroke="#262626" stroke-width="1.1"/>
<circle cx="110.40" cy="171.70" r="1.1" fill="#262626"/>
<text transform="translate(110.40 231.31) scale(0.9 1)" font-size="4.2" font-weight="normal" font-style="normal" text-anchor="middle" fill="#111" stroke="#111" stroke-width="0.42" filter="url(#tb)">n=38</text>
<line x1="127.60" y1="211.20" x2="127.60" y2="227.90" stroke="#262626" stroke-width="1.1"/>
<line x1="124.80" y1="211.20" x2="130.40" y2="211.20" stroke="#262626" stroke-width="1.1"/>
<line x1="127.60" y1="233.30" x2="127.60" y2="236.20" stroke="#262626" stroke-width="1.1"/>
<line x1="124.80" y1="236.20" x2="130.40" y2="236.20" stroke="#262626" stroke-width="1.1"/>
<rect x="121.30" y="227.90" width="12.50" height="5.40" stroke="#262626" stroke-width="1.0" fill="none"/>
<line x1="121.30" y1="230.40" x2="133.80" y2="230.40" stroke="#262626" stroke-width="1.1"/>
<circle cx="127.60" cy="207.50" r="1.1" fill="#262626"/>
<text transform="translate(127.60 203.81) scale(0.9 1)" font-size="4.2" font-weight="normal" font-style="normal" text-anchor="middle" fill="#111" stroke="#111" stroke-width="0.42" filter="url(#tb)">n=18</text>
<line x1="144.50" y1="207.50" x2="144.50" y2="227.30" stroke="#262626" stroke-width="1.1"/>
<line x1="141.70" y1="207.50" x2="147.30" y2="207.50" stroke="#262626" stroke-width="1.1"/>
<line x1="144.50" y1="232.70" x2="144.50" y2="235.20" stroke="#262626" stroke-width="1.1"/>
<line x1="141.70" y1="235.20" x2="147.30" y2="235.20" stroke="#262626" stroke-width="1.1"/>
<rect x="138.30" y="227.30" width="12.50" height="5.40" stroke="#262626" stroke-width="1.0" fill="none"/>
<line x1="138.30" y1="230.20" x2="150.80" y2="230.20" stroke="#262626" stroke-width="1.1"/>
<circle cx="144.50" cy="204.00" r="1.1" fill="#262626"/>
<text transform="translate(144.50 200.01) scale(0.9 1)" font-size="4.2" font-weight="normal" font-style="normal" text-anchor="middle" fill="#111" stroke="#111" stroke-width="0.42" filter="url(#tb)">n=17</text>
<rect x="155.80" y="236.00" width="11.40" height="0.60" stroke="#a0a0a0" stroke-width="1.0" fill="none"/>
<text transform="translate(161.50 233.91) scale(0.9 1)" font-size="4.2" font-weight="normal" font-style="normal" text-anchor="middle" fill="#111" stroke="#111" stroke-width="0.42" filter="url(#tb)">n=29</text>
<path d="M59.60 253.00 L59.60 254.70 Q59.60 255.50 60.60 255.50 L143.40 255.50 Q144.40 255.50 144.40 254.70 L144.40 253.00 M102.10 255.50 L102.10 257.50" stroke="#262626" stroke-width="0.9" fill="none"/>
<text transform="translate(102.00 265.84) scale(1.0 1)" font-size="7.6" font-weight="normal" font-style="normal" text-anchor="middle" fill="#111" stroke="#111" stroke-width="0.42" filter="url(#tb)" textLength="45.40" lengthAdjust="spacingAndGlyphs">Weeks of Treatment</text>
<text transform="translate(101.60 154.45) scale(1.0 1)" font-size="6.8" font-weight="bold" font-style="normal" text-anchor="middle" fill="#111" stroke="#111" stroke-width="0.5" filter="url(#tb)" textLength="18.30" lengthAdjust="spacingAndGlyphs">sTNFR1</text>
<text transform="translate(12.05 201.00) rotate(-90) scale(1.0 1)" font-size="6.8" font-weight="bold" font-style="normal" text-anchor="middle" fill="#111" stroke="#111" stroke-width="0.5" filter="url(#tb)" textLength="14.50" lengthAdjust="spacingAndGlyphs">pg/mL</text>
<text transform="translate(66.30 173.82)" font-size="7.0" fill="#111" stroke="#111" stroke-width="0.42" filter="url(#tb)" textLength="21.20" lengthAdjust="spacingAndGlyphs"><tspan font-style="italic">P</tspan>&lt;0.0001</text>
<line x1="208.50" y1="177.70" x2="208.50" y2="238.80" stroke="#262626" stroke-width="1.1"/>
<line x1="208.50" y1="164.80" x2="208.50" y2="171.20" stroke="#262626" stroke-width="1.1"/>
<line x1="206.30" y1="171.20" x2="210.70" y2="171.20" stroke="#262626" stroke-width="1.1"/>
<line x1="206.30" y1="177.70" x2="210.70" y2="177.70" stroke="#262626" stroke-width="1.1"/>
<line x1="206.10" y1="164.80" x2="208.50" y2="164.80" stroke="#262626" stroke-width="1.1"/>
<text transform="translate(204.60 167.03) scale(0.85 1)" font-size="6.2" font-weight="normal" font-style="normal" text-anchor="end" fill="#111" stroke="#111" stroke-width="0.42" filter="url(#tb)">2000</text>
<line x1="206.10" y1="171.20" x2="208.50" y2="171.20" stroke="#262626" stroke-width="1.1"/>
<text transform="translate(204.60 173.43) scale(0.85 1)" font-size="6.2" font-weight="normal" font-style="normal" text-anchor="end" fill="#111" stroke="#111" stroke-width="0.42" filter="url(#tb)">1000</text>
<line x1="206.10" y1="177.70" x2="208.50" y2="177.70" stroke="#262626" stroke-width="1.1"/>
<line x1="206.10" y1="206.30" x2="208.50" y2="206.30" stroke="#262626" stroke-width="1.1"/>
<text transform="translate(204.60 208.53) scale(0.85 1)" font-size="6.2" font-weight="normal" font-style="normal" text-anchor="end" fill="#111" stroke="#111" stroke-width="0.42" filter="url(#tb)">500</text>
<line x1="206.10" y1="238.80" x2="208.50" y2="238.80" stroke="#262626" stroke-width="1.1"/>
<text transform="translate(204.60 241.03) scale(0.85 1)" font-size="6.2" font-weight="normal" font-style="normal" text-anchor="end" fill="#111" stroke="#111" stroke-width="0.42" filter="url(#tb)">0</text>
<line x1="208.50" y1="238.80" x2="340.40" y2="238.80" stroke="#262626" stroke-width="1.1"/>
<line x1="216.70" y1="238.80" x2="216.70" y2="241.00" stroke="#262626" stroke-width="1.1"/>
<text transform="translate(216.70 249.20) scale(0.77 1)" font-size="6.4" font-weight="normal" font-style="normal" text-anchor="middle" fill="#111" stroke="#111" stroke-width="0.42" filter="url(#tb)">BL</text>
<line x1="233.30" y1="238.80" x2="233.30" y2="241.00" stroke="#262626" stroke-width="1.1"/>
<text transform="translate(233.30 249.20) scale(0.77 1)" font-size="6.4" font-weight="normal" font-style="normal" text-anchor="middle" fill="#111" stroke="#111" stroke-width="0.42" filter="url(#tb)">1–2.5</text>
<line x1="249.80" y1="238.80" x2="249.80" y2="241.00" stroke="#262626" stroke-width="1.1"/>
<text transform="translate(249.80 249.20) scale(0.77 1)" font-size="6.4" font-weight="normal" font-style="normal" text-anchor="middle" fill="#111" stroke="#111" stroke-width="0.42" filter="url(#tb)">4–6</text>
<line x1="265.80" y1="238.80" x2="265.80" y2="241.00" stroke="#262626" stroke-width="1.1"/>
<text transform="translate(265.80 249.20) scale(0.77 1)" font-size="6.4" font-weight="normal" font-style="normal" text-anchor="middle" fill="#111" stroke="#111" stroke-width="0.42" filter="url(#tb)">12–17</text>
<line x1="282.30" y1="238.80" x2="282.30" y2="241.00" stroke="#262626" stroke-width="1.1"/>
<text transform="translate(282.30 249.20) scale(0.77 1)" font-size="6.4" font-weight="normal" font-style="normal" text-anchor="middle" fill="#111" stroke="#111" stroke-width="0.42" filter="url(#tb)">17–30</text>
<line x1="299.00" y1="238.80" x2="299.00" y2="241.00" stroke="#262626" stroke-width="1.1"/>
<text transform="translate(299.00 249.20) scale(0.77 1)" font-size="6.4" font-weight="normal" font-style="normal" text-anchor="middle" fill="#111" stroke="#111" stroke-width="0.42" filter="url(#tb)">38–43</text>
<line x1="315.40" y1="238.80" x2="315.40" y2="241.00" stroke="#262626" stroke-width="1.1"/>
<text transform="translate(315.40 249.20) scale(0.77 1)" font-size="6.4" font-weight="normal" font-style="normal" text-anchor="middle" fill="#111" stroke="#111" stroke-width="0.42" filter="url(#tb)">47–55</text>
<line x1="331.50" y1="238.80" x2="331.50" y2="241.00" stroke="#262626" stroke-width="1.1"/>
<text transform="translate(331.50 249.20) scale(0.77 1)" font-size="6.4" font-weight="normal" font-style="normal" text-anchor="middle" fill="#111" stroke="#111" stroke-width="0.42" filter="url(#tb)">HV</text>
<line x1="217.00" y1="165.80" x2="217.00" y2="171.20" stroke="#262626" stroke-width="1.1"/>
<line x1="217.00" y1="177.70" x2="217.00" y2="182.10" stroke="#262626" stroke-width="1.1"/>
<line x1="214.20" y1="165.80" x2="219.80" y2="165.80" stroke="#262626" stroke-width="1.1"/>
<line x1="217.00" y1="204.40" x2="217.00" y2="214.20" stroke="#262626" stroke-width="1.1"/>
<line x1="214.20" y1="214.20" x2="219.80" y2="214.20" stroke="#262626" stroke-width="1.1"/>
<rect x="211.90" y="182.10" width="10.60" height="22.30" stroke="#262626" stroke-width="1.0" fill="none"/>
<line x1="211.90" y1="196.50" x2="222.50" y2="196.50" stroke="#262626" stroke-width="1.1"/>
<text transform="translate(217.00 202.31) scale(0.9 1)" font-size="4.2" font-weight="normal" font-style="normal" text-anchor="middle" fill="#111" stroke="#111" stroke-width="0.42" filter="url(#tb)">n=36</text>
<line x1="233.20" y1="170.60" x2="233.20" y2="171.20" stroke="#262626" stroke-width="1.1"/>
<line x1="233.20" y1="177.70" x2="233.20" y2="186.30" stroke="#262626" stroke-width="1.1"/>
<line x1="230.20" y1="170.60" x2="236.20" y2="170.60" stroke="#262626" stroke-width="1.1"/>
<line x1="233.20" y1="201.20" x2="233.20" y2="214.20" stroke="#262626" stroke-width="1.1"/>
<line x1="230.20" y1="214.20" x2="236.20" y2="214.20" stroke="#262626" stroke-width="1.1"/>
<rect x="227.70" y="186.30" width="11.00" height="14.90" stroke="#262626" stroke-width="1.0" fill="none"/>
<line x1="227.70" y1="193.50" x2="238.70" y2="193.50" stroke="#262626" stroke-width="1.1"/>
<text transform="translate(233.20 198.81) scale(0.9 1)" font-size="4.2" font-weight="normal" font-style="normal" text-anchor="middle" fill="#111" stroke="#111" stroke-width="0.42" filter="url(#tb)">n=39</text>
<line x1="249.80" y1="167.70" x2="249.80" y2="171.20" stroke="#262626" stroke-width="1.1"/>
<line x1="249.80" y1="177.70" x2="249.80" y2="191.20" stroke="#262626" stroke-width="1.1"/>
<line x1="247.00" y1="167.70" x2="252.60" y2="167.70" stroke="#262626" stroke-width="1.1"/>
<line x1="249.80" y1="207.20" x2="249.80" y2="216.20" stroke="#262626" stroke-width="1.1"/>
<line x1="247.00" y1="216.20" x2="252.60" y2="216.20" stroke="#262626" stroke-width="1.1"/>
<rect x="244.40" y="191.20" width="10.80" height="16.00" stroke="#262626" stroke-width="1.0" fill="none"/>
<line x1="244.40" y1="197.30" x2="255.20" y2="197.30" stroke="#262626" stroke-width="1.1"/>
<text transform="translate(249.80 203.61) scale(0.9 1)" font-size="4.2" font-weight="normal" font-style="normal" text-anchor="middle" fill="#111" stroke="#111" stroke-width="0.42" filter="url(#tb)">n=35</text>
<line x1="266.00" y1="171.20" x2="266.00" y2="171.20" stroke="#262626" stroke-width="1.1"/>
<line x1="266.00" y1="177.70" x2="266.00" y2="200.60" stroke="#262626" stroke-width="1.1"/>
<line x1="263.20" y1="171.20" x2="268.80" y2="171.20" stroke="#262626" stroke-width="1.1"/>
<line x1="266.00" y1="213.70" x2="266.00" y2="219.60" stroke="#262626" stroke-width="1.1"/>
<line x1="263.20" y1="219.60" x2="268.80" y2="219.60" stroke="#262626" stroke-width="1.1"/>
<rect x="260.60" y="200.60" width="10.90" height="13.10" stroke="#262626" stroke-width="1.0" fill="none"/>
<line x1="260.60" y1="207.20" x2="271.50" y2="207.20" stroke="#262626" stroke-width="1.1"/>
<circle cx="266.00" cy="161.30" r="1.1" fill="#262626"/>
<text transform="translate(266.00 211.71) scale(0.9 1)" font-size="4.2" font-weight="normal" font-style="normal" text-anchor="middle" fill="#111" stroke="#111" stroke-width="0.42" filter="url(#tb)">n=38</text>
<line x1="282.20" y1="180.20" x2="282.20" y2="198.50" stroke="#262626" stroke-width="1.1"/>
<line x1="279.40" y1="180.20" x2="285.00" y2="180.20" stroke="#262626" stroke-width="1.1"/>
<line x1="282.20" y1="214.60" x2="282.20" y2="221.00" stroke="#262626" stroke-width="1.1"/>
<line x1="279.40" y1="221.00" x2="285.00" y2="221.00" stroke="#262626" stroke-width="1.1"/>
<rect x="276.90" y="198.50" width="10.60" height="16.10" stroke="#262626" stroke-width="1.0" fill="none"/>
<line x1="276.90" y1="208.30" x2="287.50" y2="208.30" stroke="#262626" stroke-width="1.1"/>
<circle cx="282.20" cy="176.70" r="1.1" fill="#262626"/>
<text transform="translate(282.20 212.81) scale(0.9 1)" font-size="4.2" font-weight="normal" font-style="normal" text-anchor="middle" fill="#111" stroke="#111" stroke-width="0.42" filter="url(#tb)">n=38</text>
<line x1="298.90" y1="181.00" x2="298.90" y2="196.50" stroke="#262626" stroke-width="1.1"/>
<line x1="296.10" y1="181.00" x2="301.70" y2="181.00" stroke="#262626" stroke-width="1.1"/>
<line x1="298.90" y1="206.90" x2="298.90" y2="214.20" stroke="#262626" stroke-width="1.1"/>
<line x1="296.10" y1="214.20" x2="301.70" y2="214.20" stroke="#262626" stroke-width="1.1"/>
<rect x="293.30" y="196.50" width="11.10" height="10.40" stroke="#262626" stroke-width="1.0" fill="none"/>
<line x1="293.30" y1="200.50" x2="304.40" y2="200.50" stroke="#262626" stroke-width="1.1"/>
<circle cx="298.90" cy="177.70" r="1.1" fill="#262626"/>
<text transform="translate(298.90 205.21) scale(0.9 1)" font-size="4.2" font-weight="normal" font-style="normal" text-anchor="middle" fill="#111" stroke="#111" stroke-width="0.42" filter="url(#tb)">n=18</text>
<line x1="315.20" y1="183.50" x2="315.20" y2="196.00" stroke="#262626" stroke-width="1.1"/>
<line x1="312.40" y1="183.50" x2="318.00" y2="183.50" stroke="#262626" stroke-width="1.1"/>
<line x1="315.20" y1="206.90" x2="315.20" y2="213.30" stroke="#262626" stroke-width="1.1"/>
<line x1="312.40" y1="213.30" x2="318.00" y2="213.30" stroke="#262626" stroke-width="1.1"/>
<rect x="309.60" y="196.00" width="11.20" height="10.90" stroke="#262626" stroke-width="1.0" fill="none"/>
<line x1="309.60" y1="201.90" x2="320.80" y2="201.90" stroke="#262626" stroke-width="1.1"/>
<circle cx="315.20" cy="179.60" r="1.1" fill="#262626"/>
<text transform="translate(315.20 205.71) scale(0.9 1)" font-size="4.2" font-weight="normal" font-style="normal" text-anchor="middle" fill="#111" stroke="#111" stroke-width="0.42" filter="url(#tb)">n=17</text>
<line x1="331.30" y1="210.30" x2="331.30" y2="214.20" stroke="#262626" stroke-width="1.1"/>
<line x1="328.50" y1="210.30" x2="334.10" y2="210.30" stroke="#a0a0a0" stroke-width="1.1"/>
<line x1="331.30" y1="219.30" x2="331.30" y2="228.30" stroke="#a0a0a0" stroke-width="1.1"/>
<line x1="328.50" y1="228.30" x2="334.10" y2="228.30" stroke="#a0a0a0" stroke-width="1.1"/>
<rect x="325.50" y="214.20" width="11.20" height="5.10" stroke="#a0a0a0" stroke-width="1.0" fill="none"/>
<line x1="325.50" y1="217.00" x2="336.70" y2="217.00" stroke="#a0a0a0" stroke-width="1.1"/>
<text transform="translate(331.30 235.01) scale(0.9 1)" font-size="4.2" font-weight="normal" font-style="normal" text-anchor="middle" fill="#111" stroke="#111" stroke-width="0.42" filter="url(#tb)">n=20</text>
<path d="M233.50 252.60 L233.50 254.10 Q233.50 254.90 234.50 254.90 L314.40 254.90 Q315.40 254.90 315.40 254.10 L315.40 252.60 M274.00 254.90 L274.00 256.90" stroke="#262626" stroke-width="0.9" fill="none"/>
<text transform="translate(274.00 265.04) scale(1.0 1)" font-size="7.6" font-weight="normal" font-style="normal" text-anchor="middle" fill="#111" stroke="#111" stroke-width="0.42" filter="url(#tb)" textLength="44.50" lengthAdjust="spacingAndGlyphs">Weeks of Treatment</text>
<text transform="translate(273.90 156.95) scale(1.0 1)" font-size="6.8" font-weight="bold" font-style="normal" text-anchor="middle" fill="#111" stroke="#111" stroke-width="0.5" filter="url(#tb)" textLength="21.50" lengthAdjust="spacingAndGlyphs">sVCAM-1</text>
<text transform="translate(189.75 202.00) rotate(-90) scale(1.0 1)" font-size="6.8" font-weight="bold" font-style="normal" text-anchor="middle" fill="#111" stroke="#111" stroke-width="0.5" filter="url(#tb)" textLength="12.50" lengthAdjust="spacingAndGlyphs">ng/mL</text>
<text transform="translate(255.50 170.62)" font-size="7.0" fill="#111" stroke="#111" stroke-width="0.42" filter="url(#tb)" textLength="21.00" lengthAdjust="spacingAndGlyphs"><tspan font-style="italic">P</tspan>&lt;0.0001</text>
<line x1="371.20" y1="174.20" x2="371.20" y2="238.80" stroke="#262626" stroke-width="1.1"/>
<line x1="371.20" y1="161.30" x2="371.20" y2="168.50" stroke="#262626" stroke-width="1.1"/>
<line x1="369.00" y1="168.50" x2="373.40" y2="168.50" stroke="#262626" stroke-width="1.1"/>
<line x1="369.00" y1="174.20" x2="373.40" y2="174.20" stroke="#262626" stroke-width="1.1"/>
<line x1="368.80" y1="161.30" x2="371.20" y2="161.30" stroke="#262626" stroke-width="1.1"/>
<text transform="translate(366.50 163.53) scale(0.85 1)" font-size="6.2" font-weight="normal" font-style="normal" text-anchor="end" fill="#111" stroke="#111" stroke-width="0.42" filter="url(#tb)">40</text>
<line x1="368.80" y1="168.50" x2="371.20" y2="168.50" stroke="#262626" stroke-width="1.1"/>
<text transform="translate(366.50 170.73) scale(0.85 1)" font-size="6.2" font-weight="normal" font-style="normal" text-anchor="end" fill="#111" stroke="#111" stroke-width="0.42" filter="url(#tb)">20</text>
<line x1="368.80" y1="174.20" x2="371.20" y2="174.20" stroke="#262626" stroke-width="1.1"/>
<line x1="368.80" y1="185.40" x2="371.20" y2="185.40" stroke="#262626" stroke-width="1.1"/>
<text transform="translate(366.50 187.63) scale(0.85 1)" font-size="6.2" font-weight="normal" font-style="normal" text-anchor="end" fill="#111" stroke="#111" stroke-width="0.42" filter="url(#tb)">15</text>
<line x1="368.80" y1="203.10" x2="371.20" y2="203.10" stroke="#262626" stroke-width="1.1"/>
<text transform="translate(366.50 205.33) scale(0.85 1)" font-size="6.2" font-weight="normal" font-style="normal" text-anchor="end" fill="#111" stroke="#111" stroke-width="0.42" filter="url(#tb)">10</text>
<line x1="368.80" y1="221.00" x2="371.20" y2="221.00" stroke="#262626" stroke-width="1.1"/>
<text transform="translate(366.50 223.23) scale(0.85 1)" font-size="6.2" font-weight="normal" font-style="normal" text-anchor="end" fill="#111" stroke="#111" stroke-width="0.42" filter="url(#tb)">5</text>
<line x1="368.80" y1="238.80" x2="371.20" y2="238.80" stroke="#262626" stroke-width="1.1"/>
<text transform="translate(366.50 241.03) scale(0.85 1)" font-size="6.2" font-weight="normal" font-style="normal" text-anchor="end" fill="#111" stroke="#111" stroke-width="0.42" filter="url(#tb)">0</text>
<line x1="371.20" y1="238.80" x2="510.40" y2="238.80" stroke="#262626" stroke-width="1.1"/>
<line x1="379.80" y1="238.80" x2="379.80" y2="241.00" stroke="#262626" stroke-width="1.1"/>
<text transform="translate(379.80 249.20) scale(0.77 1)" font-size="6.4" font-weight="normal" font-style="normal" text-anchor="middle" fill="#111" stroke="#111" stroke-width="0.42" filter="url(#tb)">BL</text>
<line x1="396.90" y1="238.80" x2="396.90" y2="241.00" stroke="#262626" stroke-width="1.1"/>
<text transform="translate(396.90 249.20) scale(0.77 1)" font-size="6.4" font-weight="normal" font-style="normal" text-anchor="middle" fill="#111" stroke="#111" stroke-width="0.42" filter="url(#tb)">1–2.5</text>
<line x1="414.20" y1="238.80" x2="414.20" y2="241.00" stroke="#262626" stroke-width="1.1"/>
<text transform="translate(414.20 249.20) scale(0.77 1)" font-size="6.4" font-weight="normal" font-style="normal" text-anchor="middle" fill="#111" stroke="#111" stroke-width="0.42" filter="url(#tb)">4–6</text>
<line x1="431.70" y1="238.80" x2="431.70" y2="241.00" stroke="#262626" stroke-width="1.1"/>
<text transform="translate(431.70 249.20) scale(0.77 1)" font-size="6.4" font-weight="normal" font-style="normal" text-anchor="middle" fill="#111" stroke="#111" stroke-width="0.42" filter="url(#tb)">12–17</text>
<line x1="448.80" y1="238.80" x2="448.80" y2="241.00" stroke="#262626" stroke-width="1.1"/>
<text transform="translate(448.80 249.20) scale(0.77 1)" font-size="6.4" font-weight="normal" font-style="normal" text-anchor="middle" fill="#111" stroke="#111" stroke-width="0.42" filter="url(#tb)">17–30</text>
<line x1="466.20" y1="238.80" x2="466.20" y2="241.00" stroke="#262626" stroke-width="1.1"/>
<text transform="translate(466.20 249.20) scale(0.77 1)" font-size="6.4" font-weight="normal" font-style="normal" text-anchor="middle" fill="#111" stroke="#111" stroke-width="0.42" filter="url(#tb)">38–43</text>
<line x1="483.50" y1="238.80" x2="483.50" y2="241.00" stroke="#262626" stroke-width="1.1"/>
<text transform="translate(483.50 249.20) scale(0.77 1)" font-size="6.4" font-weight="normal" font-style="normal" text-anchor="middle" fill="#111" stroke="#111" stroke-width="0.42" filter="url(#tb)">47–55</text>
<line x1="500.80" y1="238.80" x2="500.80" y2="241.00" stroke="#262626" stroke-width="1.1"/>
<text transform="translate(500.80 249.20) scale(0.77 1)" font-size="6.4" font-weight="normal" font-style="normal" text-anchor="middle" fill="#111" stroke="#111" stroke-width="0.42" filter="url(#tb)">HV</text>
<line x1="379.80" y1="174.20" x2="379.80" y2="195.40" stroke="#262626" stroke-width="1.1"/>
<line x1="379.80" y1="215.80" x2="379.80" y2="226.30" stroke="#262626" stroke-width="1.1"/>
<line x1="377.00" y1="226.30" x2="382.60" y2="226.30" stroke="#262626" stroke-width="1.1"/>
<line x1="377.00" y1="167.10" x2="382.60" y2="167.10" stroke="#262626" stroke-width="1.1"/>
<rect x="374.20" y="195.40" width="11.40" height="20.40" stroke="#262626" stroke-width="1.0" fill="none"/>
<line x1="374.20" y1="202.70" x2="385.60" y2="202.70" stroke="#262626" stroke-width="1.1"/>
<text transform="translate(379.80 210.91) scale(0.9 1)" font-size="4.2" font-weight="normal" font-style="normal" text-anchor="middle" fill="#111" stroke="#111" stroke-width="0.42" filter="url(#tb)">n=34</text>
<line x1="397.10" y1="164.20" x2="397.10" y2="168.50" stroke="#262626" stroke-width="1.1"/>
<line x1="397.10" y1="174.20" x2="397.10" y2="186.30" stroke="#262626" stroke-width="1.1"/>
<line x1="394.30" y1="164.20" x2="399.90" y2="164.20" stroke="#262626" stroke-width="1.1"/>
<line x1="397.10" y1="211.90" x2="397.10" y2="223.50" stroke="#262626" stroke-width="1.1"/>
<line x1="394.30" y1="223.50" x2="399.90" y2="223.50" stroke="#262626" stroke-width="1.1"/>
<rect x="391.50" y="186.30" width="12.00" height="25.60" stroke="#262626" stroke-width="1.0" fill="none"/>
<line x1="391.50" y1="199.10" x2="403.50" y2="199.10" stroke="#262626" stroke-width="1.1"/>
<text transform="translate(397.10 207.11) scale(0.9 1)" font-size="4.2" font-weight="normal" font-style="normal" text-anchor="middle" fill="#111" stroke="#111" stroke-width="0.42" filter="url(#tb)">n=35</text>
<line x1="414.40" y1="176.20" x2="414.40" y2="195.40" stroke="#262626" stroke-width="1.1"/>
<line x1="411.60" y1="176.20" x2="417.20" y2="176.20" stroke="#262626" stroke-width="1.1"/>
<line x1="414.40" y1="217.10" x2="414.40" y2="225.20" stroke="#262626" stroke-width="1.1"/>
<line x1="411.60" y1="225.20" x2="417.20" y2="225.20" stroke="#262626" stroke-width="1.1"/>
<rect x="408.80" y="195.40" width="11.60" height="21.70" stroke="#262626" stroke-width="1.0" fill="none"/>
<line x1="408.80" y1="208.30" x2="420.40" y2="208.30" stroke="#262626" stroke-width="1.1"/>
<text transform="translate(414.40 213.61) scale(0.9 1)" font-size="4.2" font-weight="normal" font-style="normal" text-anchor="middle" fill="#111" stroke="#111" stroke-width="0.42" filter="url(#tb)">n=34</text>
<line x1="431.70" y1="184.40" x2="431.70" y2="206.40" stroke="#262626" stroke-width="1.1"/>
<line x1="428.90" y1="184.40" x2="434.50" y2="184.40" stroke="#262626" stroke-width="1.1"/>
<line x1="431.70" y1="219.00" x2="431.70" y2="228.10" stroke="#262626" stroke-width="1.1"/>
<line x1="428.90" y1="228.10" x2="434.50" y2="228.10" stroke="#262626" stroke-width="1.1"/>
<rect x="425.70" y="206.40" width="12.10" height="12.60" stroke="#262626" stroke-width="1.0" fill="none"/>
<line x1="425.70" y1="214.80" x2="437.80" y2="214.80" stroke="#262626" stroke-width="1.1"/>
<circle cx="431.70" cy="173.80" r="1.1" fill="#262626"/>
<text transform="translate(431.70 213.41) scale(0.9 1)" font-size="4.2" font-weight="normal" font-style="normal" text-anchor="middle" fill="#111" stroke="#111" stroke-width="0.42" filter="url(#tb)">n=33</text>
<line x1="449.00" y1="185.00" x2="449.00" y2="208.70" stroke="#262626" stroke-width="1.1"/>
<line x1="446.20" y1="185.00" x2="451.80" y2="185.00" stroke="#262626" stroke-width="1.1"/>
<line x1="449.00" y1="223.50" x2="449.00" y2="238.50" stroke="#262626" stroke-width="1.1"/>
<line x1="446.20" y1="238.50" x2="451.80" y2="238.50" stroke="#262626" stroke-width="1.1"/>
<rect x="443.00" y="208.70" width="12.20" height="14.80" stroke="#262626" stroke-width="1.0" fill="none"/>
<line x1="443.00" y1="215.80" x2="455.20" y2="215.80" stroke="#262626" stroke-width="1.1"/>
<circle cx="449.00" cy="180.60" r="1.1" fill="#262626"/>
<text transform="translate(449.00 221.11) scale(0.9 1)" font-size="4.2" font-weight="normal" font-style="normal" text-anchor="middle" fill="#111" stroke="#111" stroke-width="0.42" filter="url(#tb)">n=34</text>
<line x1="466.20" y1="215.20" x2="466.20" y2="222.50" stroke="#262626" stroke-width="1.1"/>
<line x1="463.40" y1="215.20" x2="469.00" y2="215.20" stroke="#262626" stroke-width="1.1"/>
<line x1="466.20" y1="228.70" x2="466.20" y2="230.60" stroke="#262626" stroke-width="1.1"/>
<line x1="463.40" y1="230.60" x2="469.00" y2="230.60" stroke="#262626" stroke-width="1.1"/>
<rect x="460.00" y="222.50" width="12.30" height="6.20" stroke="#262626" stroke-width="1.0" fill="none"/>
<line x1="460.00" y1="225.20" x2="472.30" y2="225.20" stroke="#262626" stroke-width="1.1"/>
<circle cx="466.20" cy="210.60" r="1.1" fill="#262626"/>
<text transform="translate(466.20 235.51) scale(0.9 1)" font-size="4.2" font-weight="normal" font-style="normal" text-anchor="middle" fill="#111" stroke="#111" stroke-width="0.42" filter="url(#tb)">n=17</text>
<line x1="483.50" y1="219.00" x2="483.50" y2="223.80" stroke="#262626" stroke-width="1.1"/>
<line x1="480.70" y1="219.00" x2="486.30" y2="219.00" stroke="#262626" stroke-width="1.1"/>
<line x1="483.50" y1="228.70" x2="483.50" y2="230.00" stroke="#262626" stroke-width="1.1"/>
<line x1="480.70" y1="230.00" x2="486.30" y2="230.00" stroke="#262626" stroke-width="1.1"/>
<rect x="477.30" y="223.80" width="12.30" height="4.90" stroke="#262626" stroke-width="1.0" fill="none"/>
<line x1="477.30" y1="226.30" x2="489.60" y2="226.30" stroke="#262626" stroke-width="1.1"/>
<circle cx="483.50" cy="214.30" r="1.1" fill="#262626"/>
<text transform="translate(483.50 235.51) scale(0.9 1)" font-size="4.2" font-weight="normal" font-style="normal" text-anchor="middle" fill="#111" stroke="#111" stroke-width="0.42" filter="url(#tb)">n=17</text>
<line x1="500.90" y1="225.20" x2="500.90" y2="226.70" stroke="#262626" stroke-width="1.1"/>
<line x1="498.10" y1="225.20" x2="503.70" y2="225.20" stroke="#a0a0a0" stroke-width="1.1"/>
<line x1="500.90" y1="230.60" x2="500.90" y2="231.50" stroke="#a0a0a0" stroke-width="1.1"/>
<line x1="498.10" y1="231.50" x2="503.70" y2="231.50" stroke="#a0a0a0" stroke-width="1.1"/>
<rect x="495.00" y="226.70" width="11.90" height="3.90" stroke="#a0a0a0" stroke-width="1.0" fill="none"/>
<line x1="495.00" y1="228.60" x2="506.90" y2="228.60" stroke="#a0a0a0" stroke-width="1.1"/>
<text transform="translate(500.90 236.91) scale(0.9 1)" font-size="4.2" font-weight="normal" font-style="normal" text-anchor="middle" fill="#111" stroke="#111" stroke-width="0.42" filter="url(#tb)">n=10</text>
<path d="M397.10 254.20 L397.10 255.50 Q397.10 256.30 398.10 256.30 L481.50 256.30 Q482.50 256.30 482.50 255.50 L482.50 254.20 M440.20 256.30 L440.20 258.30" stroke="#262626" stroke-width="0.9" fill="none"/>
<text transform="translate(440.30 266.14) scale(1.0 1)" font-size="7.6" font-weight="normal" font-style="normal" text-anchor="middle" fill="#111" stroke="#111" stroke-width="0.42" filter="url(#tb)" textLength="46.00" lengthAdjust="spacingAndGlyphs">Weeks of Treatment</text>
<text transform="translate(440.50 156.15) scale(1.0 1)" font-size="6.8" font-weight="bold" font-style="normal" text-anchor="middle" fill="#111" stroke="#111" stroke-width="0.5" filter="url(#tb)" textLength="7.00" lengthAdjust="spacingAndGlyphs">TM</text>
<text transform="translate(354.95 201.30) rotate(-90) scale(1.0 1)" font-size="6.8" font-weight="bold" font-style="normal" text-anchor="middle" fill="#111" stroke="#111" stroke-width="0.5" filter="url(#tb)" textLength="14.50" lengthAdjust="spacingAndGlyphs">ng/mL</text>
<text transform="translate(421.00 183.02)" font-size="7.0" fill="#111" stroke="#111" stroke-width="0.42" filter="url(#tb)" textLength="22.00" lengthAdjust="spacingAndGlyphs"><tspan font-style="italic">P</tspan>&lt;0.0001</text>
<line x1="105.20" y1="304.00" x2="105.20" y2="368.00" stroke="#262626" stroke-width="1.1"/>
<line x1="105.20" y1="290.60" x2="105.20" y2="298.30" stroke="#262626" stroke-width="1.1"/>
<line x1="103.00" y1="298.30" x2="107.40" y2="298.30" stroke="#262626" stroke-width="1.1"/>
<line x1="103.00" y1="304.00" x2="107.40" y2="304.00" stroke="#262626" stroke-width="1.1"/>
<line x1="102.80" y1="290.60" x2="105.20" y2="290.60" stroke="#262626" stroke-width="1.1"/>
<text transform="translate(101.30 292.83) scale(0.85 1)" font-size="6.2" font-weight="normal" font-style="normal" text-anchor="end" fill="#111" stroke="#111" stroke-width="0.42" filter="url(#tb)">6000</text>
<line x1="102.80" y1="298.30" x2="105.20" y2="298.30" stroke="#262626" stroke-width="1.1"/>
<text transform="translate(101.30 300.53) scale(0.85 1)" font-size="6.2" font-weight="normal" font-style="normal" text-anchor="end" fill="#111" stroke="#111" stroke-width="0.42" filter="url(#tb)">4000</text>
<line x1="102.80" y1="304.00" x2="105.20" y2="304.00" stroke="#262626" stroke-width="1.1"/>
<line x1="102.80" y1="314.60" x2="105.20" y2="314.60" stroke="#262626" stroke-width="1.1"/>
<text transform="translate(101.30 316.83) scale(0.85 1)" font-size="6.2" font-weight="normal" font-style="normal" text-anchor="end" fill="#111" stroke="#111" stroke-width="0.42" filter="url(#tb)">2000</text>
<line x1="102.80" y1="341.00" x2="105.20" y2="341.00" stroke="#262626" stroke-width="1.1"/>
<text transform="translate(101.30 343.23) scale(0.85 1)" font-size="6.2" font-weight="normal" font-style="normal" text-anchor="end" fill="#111" stroke="#111" stroke-width="0.42" filter="url(#tb)">1000</text>
<line x1="102.80" y1="367.70" x2="105.20" y2="367.70" stroke="#262626" stroke-width="1.1"/>
<text transform="translate(101.30 369.93) scale(0.85 1)" font-size="6.2" font-weight="normal" font-style="normal" text-anchor="end" fill="#111" stroke="#111" stroke-width="0.42" filter="url(#tb)">0</text>
<line x1="105.20" y1="368.00" x2="240.50" y2="368.00" stroke="#262626" stroke-width="1.1"/>
<line x1="113.50" y1="368.00" x2="113.50" y2="370.20" stroke="#262626" stroke-width="1.1"/>
<text transform="translate(113.50 379.00) scale(0.77 1)" font-size="6.4" font-weight="normal" font-style="normal" text-anchor="middle" fill="#111" stroke="#111" stroke-width="0.42" filter="url(#tb)">BL</text>
<line x1="130.80" y1="368.00" x2="130.80" y2="370.20" stroke="#262626" stroke-width="1.1"/>
<text transform="translate(130.80 379.00) scale(0.77 1)" font-size="6.4" font-weight="normal" font-style="normal" text-anchor="middle" fill="#111" stroke="#111" stroke-width="0.42" filter="url(#tb)">1–2.5</text>
<line x1="148.10" y1="368.00" x2="148.10" y2="370.20" stroke="#262626" stroke-width="1.1"/>
<text transform="translate(148.10 379.00) scale(0.77 1)" font-size="6.4" font-weight="normal" font-style="normal" text-anchor="middle" fill="#111" stroke="#111" stroke-width="0.42" filter="url(#tb)">4–6</text>
<line x1="165.20" y1="368.00" x2="165.20" y2="370.20" stroke="#262626" stroke-width="1.1"/>
<text transform="translate(165.20 379.00) scale(0.77 1)" font-size="6.4" font-weight="normal" font-style="normal" text-anchor="middle" fill="#111" stroke="#111" stroke-width="0.42" filter="url(#tb)">12–17</text>
<line x1="182.70" y1="368.00" x2="182.70" y2="370.20" stroke="#262626" stroke-width="1.1"/>
<text transform="translate(182.70 379.00) scale(0.77 1)" font-size="6.4" font-weight="normal" font-style="normal" text-anchor="middle" fill="#111" stroke="#111" stroke-width="0.42" filter="url(#tb)">17–30</text>
<line x1="200.00" y1="368.00" x2="200.00" y2="370.20" stroke="#262626" stroke-width="1.1"/>
<text transform="translate(200.00 379.00) scale(0.77 1)" font-size="6.4" font-weight="normal" font-style="normal" text-anchor="middle" fill="#111" stroke="#111" stroke-width="0.42" filter="url(#tb)">38–43</text>
<line x1="217.00" y1="368.00" x2="217.00" y2="370.20" stroke="#262626" stroke-width="1.1"/>
<text transform="translate(217.00 379.00) scale(0.77 1)" font-size="6.4" font-weight="normal" font-style="normal" text-anchor="middle" fill="#111" stroke="#111" stroke-width="0.42" filter="url(#tb)">47–55</text>
<line x1="234.20" y1="368.00" x2="234.20" y2="370.20" stroke="#262626" stroke-width="1.1"/>
<text transform="translate(234.20 379.00) scale(0.77 1)" font-size="6.4" font-weight="normal" font-style="normal" text-anchor="middle" fill="#111" stroke="#111" stroke-width="0.42" filter="url(#tb)">HV</text>
<line x1="113.60" y1="291.90" x2="113.60" y2="298.30" stroke="#262626" stroke-width="1.1"/>
<line x1="113.60" y1="304.00" x2="113.60" y2="315.60" stroke="#262626" stroke-width="1.1"/>
<line x1="110.80" y1="291.90" x2="116.40" y2="291.90" stroke="#262626" stroke-width="1.1"/>
<line x1="113.60" y1="350.80" x2="113.60" y2="361.90" stroke="#262626" stroke-width="1.1"/>
<line x1="110.80" y1="361.90" x2="116.40" y2="361.90" stroke="#262626" stroke-width="1.1"/>
<rect x="107.70" y="315.60" width="11.50" height="35.20" stroke="#262626" stroke-width="1.0" fill="none"/>
<line x1="107.70" y1="340.40" x2="119.20" y2="340.40" stroke="#262626" stroke-width="1.1"/>
<text transform="translate(113.60 346.91) scale(0.9 1)" font-size="4.2" font-weight="normal" font-style="normal" text-anchor="middle" fill="#111" stroke="#111" stroke-width="0.42" filter="url(#tb)">n=36</text>
<line x1="130.90" y1="304.00" x2="130.90" y2="336.30" stroke="#262626" stroke-width="1.1"/>
<line x1="130.90" y1="353.70" x2="130.90" y2="363.30" stroke="#262626" stroke-width="1.1"/>
<line x1="128.10" y1="363.30" x2="133.70" y2="363.30" stroke="#262626" stroke-width="1.1"/>
<rect x="125.40" y="336.30" width="11.10" height="17.40" stroke="#262626" stroke-width="1.0" fill="none"/>
<line x1="125.40" y1="346.20" x2="136.50" y2="346.20" stroke="#262626" stroke-width="1.1"/>
<circle cx="130.90" cy="293.50" r="1.1" fill="#262626"/>
<text transform="translate(130.90 351.31) scale(0.9 1)" font-size="4.2" font-weight="normal" font-style="normal" text-anchor="middle" fill="#111" stroke="#111" stroke-width="0.42" filter="url(#tb)">n=39</text>
<line x1="148.10" y1="296.70" x2="148.10" y2="298.30" stroke="#262626" stroke-width="1.1"/>
<line x1="148.10" y1="304.00" x2="148.10" y2="344.40" stroke="#262626" stroke-width="1.1"/>
<line x1="145.30" y1="296.70" x2="150.90" y2="296.70" stroke="#262626" stroke-width="1.1"/>
<line x1="148.10" y1="359.40" x2="148.10" y2="363.80" stroke="#262626" stroke-width="1.1"/>
<line x1="145.30" y1="363.80" x2="150.90" y2="363.80" stroke="#262626" stroke-width="1.1"/>
<rect x="142.30" y="344.40" width="11.50" height="15.00" stroke="#262626" stroke-width="1.0" fill="none"/>
<line x1="142.30" y1="351.20" x2="153.80" y2="351.20" stroke="#262626" stroke-width="1.1"/>
<circle cx="148.10" cy="293.30" r="1.1" fill="#262626"/>
<text transform="translate(148.10 356.71) scale(0.9 1)" font-size="4.2" font-weight="normal" font-style="normal" text-anchor="middle" fill="#111" stroke="#111" stroke-width="0.42" filter="url(#tb)">n=35</text>
<line x1="165.50" y1="326.50" x2="165.50" y2="351.70" stroke="#262626" stroke-width="1.1"/>
<line x1="162.70" y1="326.50" x2="168.30" y2="326.50" stroke="#262626" stroke-width="1.1"/>
<line x1="165.50" y1="360.40" x2="165.50" y2="363.80" stroke="#262626" stroke-width="1.1"/>
<line x1="162.70" y1="363.80" x2="168.30" y2="363.80" stroke="#262626" stroke-width="1.1"/>
<rect x="159.80" y="351.70" width="11.50" height="8.70" stroke="#262626" stroke-width="1.0" fill="none"/>
<line x1="159.80" y1="356.90" x2="171.30" y2="356.90" stroke="#262626" stroke-width="1.1"/>
<circle cx="165.50" cy="321.70" r="1.1" fill="#262626"/>
<text transform="translate(165.50 356.51) scale(0.9 1)" font-size="4.2" font-weight="normal" font-style="normal" text-anchor="middle" fill="#111" stroke="#111" stroke-width="0.42" filter="url(#tb)">n=37</text>
<line x1="182.80" y1="318.70" x2="182.80" y2="354.60" stroke="#262626" stroke-width="1.1"/>
<line x1="180.00" y1="318.70" x2="185.60" y2="318.70" stroke="#262626" stroke-width="1.1"/>
<line x1="182.80" y1="360.80" x2="182.80" y2="367.70" stroke="#262626" stroke-width="1.1"/>
<line x1="180.00" y1="367.70" x2="185.60" y2="367.70" stroke="#262626" stroke-width="1.1"/>
<rect x="176.90" y="354.60" width="11.80" height="6.20" stroke="#262626" stroke-width="1.0" fill="none"/>
<line x1="176.90" y1="357.90" x2="188.70" y2="357.90" stroke="#262626" stroke-width="1.1"/>
<circle cx="182.80" cy="314.40" r="1.1" fill="#262626"/>
<text transform="translate(182.80 311.71) scale(0.9 1)" font-size="4.2" font-weight="normal" font-style="normal" text-anchor="middle" fill="#111" stroke="#111" stroke-width="0.42" filter="url(#tb)">n=36</text>
<line x1="200.30" y1="303.80" x2="200.30" y2="341.30" stroke="#262626" stroke-width="1.1"/>
<line x1="200.30" y1="356.20" x2="200.30" y2="362.30" stroke="#262626" stroke-width="1.1"/>
<line x1="197.50" y1="362.30" x2="203.10" y2="362.30" stroke="#262626" stroke-width="1.1"/>
<rect x="194.40" y="341.30" width="11.90" height="14.90" stroke="#262626" stroke-width="1.0" fill="none"/>
<line x1="194.40" y1="351.70" x2="206.30" y2="351.70" stroke="#262626" stroke-width="1.1"/>
<circle cx="200.30" cy="300.00" r="1.1" fill="#262626"/>
<text transform="translate(200.30 355.21) scale(0.9 1)" font-size="4.2" font-weight="normal" font-style="normal" text-anchor="middle" fill="#111" stroke="#111" stroke-width="0.42" filter="url(#tb)">n=17</text>
<line x1="217.40" y1="335.50" x2="217.40" y2="346.90" stroke="#262626" stroke-width="1.1"/>
<line x1="214.60" y1="335.50" x2="220.20" y2="335.50" stroke="#262626" stroke-width="1.1"/>
<line x1="217.40" y1="356.50" x2="217.40" y2="358.50" stroke="#262626" stroke-width="1.1"/>
<line x1="214.60" y1="358.50" x2="220.20" y2="358.50" stroke="#262626" stroke-width="1.1"/>
<rect x="211.50" y="346.90" width="11.80" height="9.60" stroke="#262626" stroke-width="1.0" fill="none"/>
<line x1="211.50" y1="355.00" x2="223.30" y2="355.00" stroke="#262626" stroke-width="1.1"/>
<circle cx="217.40" cy="331.20" r="1.1" fill="#262626"/>
<text transform="translate(217.40 352.31) scale(0.9 1)" font-size="4.2" font-weight="normal" font-style="normal" text-anchor="middle" fill="#111" stroke="#111" stroke-width="0.42" filter="url(#tb)">n=17</text>
<rect x="228.50" y="360.80" width="11.50" height="3.80" stroke="#a0a0a0" stroke-width="1.0" fill="none"/>
<line x1="228.50" y1="362.70" x2="240.00" y2="362.70" stroke="#a0a0a0" stroke-width="1.1"/>
<text transform="translate(234.20 357.51) scale(0.9 1)" font-size="4.2" font-weight="normal" font-style="normal" text-anchor="middle" fill="#111" stroke="#111" stroke-width="0.42" filter="url(#tb)">n=10</text>
<path d="M130.80 383.00 L130.80 384.50 Q130.80 385.30 131.80 385.30 L216.50 385.30 Q217.50 385.30 217.50 384.50 L217.50 383.00 M173.70 385.30 L173.70 387.30" stroke="#262626" stroke-width="0.9" fill="none"/>
<text transform="translate(173.70 394.64) scale(1.0 1)" font-size="7.6" font-weight="normal" font-style="normal" text-anchor="middle" fill="#111" stroke="#111" stroke-width="0.42" filter="url(#tb)" textLength="46.00" lengthAdjust="spacingAndGlyphs">Weeks of Treatment</text>
<text transform="translate(174.10 285.55) scale(1.0 1)" font-size="6.8" font-weight="bold" font-style="normal" text-anchor="middle" fill="#111" stroke="#111" stroke-width="0.5" filter="url(#tb)" textLength="12.50" lengthAdjust="spacingAndGlyphs">F1+2</text>
<text transform="translate(82.75 329.50) rotate(-90) scale(1.0 1)" font-size="6.8" font-weight="bold" font-style="normal" text-anchor="middle" fill="#111" stroke="#111" stroke-width="0.5" filter="url(#tb)" textLength="16.40" lengthAdjust="spacingAndGlyphs">pmol/L</text>
<text transform="translate(120.20 303.12)" font-size="7.0" fill="#111" stroke="#111" stroke-width="0.42" filter="url(#tb)" textLength="21.50" lengthAdjust="spacingAndGlyphs"><tspan font-style="italic">P</tspan>&lt;0.0001</text>
<line x1="275.80" y1="303.80" x2="275.80" y2="368.00" stroke="#262626" stroke-width="1.1"/>
<line x1="275.80" y1="289.40" x2="275.80" y2="298.10" stroke="#262626" stroke-width="1.1"/>
<line x1="273.60" y1="298.10" x2="278.00" y2="298.10" stroke="#262626" stroke-width="1.1"/>
<line x1="273.60" y1="303.80" x2="278.00" y2="303.80" stroke="#262626" stroke-width="1.1"/>
<line x1="273.40" y1="289.40" x2="275.80" y2="289.40" stroke="#262626" stroke-width="1.1"/>
<text transform="translate(272.00 291.63) scale(0.85 1)" font-size="6.2" font-weight="normal" font-style="normal" text-anchor="end" fill="#111" stroke="#111" stroke-width="0.42" filter="url(#tb)">50000</text>
<line x1="273.40" y1="298.10" x2="275.80" y2="298.10" stroke="#262626" stroke-width="1.1"/>
<line x1="273.40" y1="303.80" x2="275.80" y2="303.80" stroke="#262626" stroke-width="1.1"/>
<text transform="translate(272.00 306.03) scale(0.85 1)" font-size="6.2" font-weight="normal" font-style="normal" text-anchor="end" fill="#111" stroke="#111" stroke-width="0.42" filter="url(#tb)">8000</text>
<line x1="273.40" y1="320.00" x2="275.80" y2="320.00" stroke="#262626" stroke-width="1.1"/>
<text transform="translate(272.00 322.23) scale(0.85 1)" font-size="6.2" font-weight="normal" font-style="normal" text-anchor="end" fill="#111" stroke="#111" stroke-width="0.42" filter="url(#tb)">6000</text>
<line x1="273.40" y1="336.00" x2="275.80" y2="336.00" stroke="#262626" stroke-width="1.1"/>
<text transform="translate(272.00 338.23) scale(0.85 1)" font-size="6.2" font-weight="normal" font-style="normal" text-anchor="end" fill="#111" stroke="#111" stroke-width="0.42" filter="url(#tb)">4000</text>
<line x1="273.40" y1="351.80" x2="275.80" y2="351.80" stroke="#262626" stroke-width="1.1"/>
<text transform="translate(272.00 354.03) scale(0.85 1)" font-size="6.2" font-weight="normal" font-style="normal" text-anchor="end" fill="#111" stroke="#111" stroke-width="0.42" filter="url(#tb)">2000</text>
<line x1="273.40" y1="367.60" x2="275.80" y2="367.60" stroke="#262626" stroke-width="1.1"/>
<text transform="translate(272.00 369.83) scale(0.85 1)" font-size="6.2" font-weight="normal" font-style="normal" text-anchor="end" fill="#111" stroke="#111" stroke-width="0.42" filter="url(#tb)">0</text>
<line x1="275.80" y1="368.00" x2="414.60" y2="368.00" stroke="#262626" stroke-width="1.1"/>
<line x1="284.80" y1="368.00" x2="284.80" y2="370.20" stroke="#262626" stroke-width="1.1"/>
<text transform="translate(284.80 378.80) scale(0.77 1)" font-size="6.4" font-weight="normal" font-style="normal" text-anchor="middle" fill="#111" stroke="#111" stroke-width="0.42" filter="url(#tb)">BL</text>
<line x1="301.50" y1="368.00" x2="301.50" y2="370.20" stroke="#262626" stroke-width="1.1"/>
<text transform="translate(301.50 378.80) scale(0.77 1)" font-size="6.4" font-weight="normal" font-style="normal" text-anchor="middle" fill="#111" stroke="#111" stroke-width="0.42" filter="url(#tb)">1–2.5</text>
<line x1="318.60" y1="368.00" x2="318.60" y2="370.20" stroke="#262626" stroke-width="1.1"/>
<text transform="translate(318.60 378.80) scale(0.77 1)" font-size="6.4" font-weight="normal" font-style="normal" text-anchor="middle" fill="#111" stroke="#111" stroke-width="0.42" filter="url(#tb)">4–6</text>
<line x1="336.00" y1="368.00" x2="336.00" y2="370.20" stroke="#262626" stroke-width="1.1"/>
<text transform="translate(336.00 378.80) scale(0.77 1)" font-size="6.4" font-weight="normal" font-style="normal" text-anchor="middle" fill="#111" stroke="#111" stroke-width="0.42" filter="url(#tb)">12–17</text>
<line x1="353.70" y1="368.00" x2="353.70" y2="370.20" stroke="#262626" stroke-width="1.1"/>
<text transform="translate(353.70 378.80) scale(0.77 1)" font-size="6.4" font-weight="normal" font-style="normal" text-anchor="middle" fill="#111" stroke="#111" stroke-width="0.42" filter="url(#tb)">17–30</text>
<line x1="370.90" y1="368.00" x2="370.90" y2="370.20" stroke="#262626" stroke-width="1.1"/>
<text transform="translate(370.90 378.80) scale(0.77 1)" font-size="6.4" font-weight="normal" font-style="normal" text-anchor="middle" fill="#111" stroke="#111" stroke-width="0.42" filter="url(#tb)">38–43</text>
<line x1="388.30" y1="368.00" x2="388.30" y2="370.20" stroke="#262626" stroke-width="1.1"/>
<text transform="translate(388.30 378.80) scale(0.77 1)" font-size="6.4" font-weight="normal" font-style="normal" text-anchor="middle" fill="#111" stroke="#111" stroke-width="0.42" filter="url(#tb)">47–55</text>
<line x1="406.00" y1="368.00" x2="406.00" y2="370.20" stroke="#262626" stroke-width="1.1"/>
<text transform="translate(406.00 378.80) scale(0.77 1)" font-size="6.4" font-weight="normal" font-style="normal" text-anchor="middle" fill="#111" stroke="#111" stroke-width="0.42" filter="url(#tb)">HV</text>
<line x1="284.90" y1="292.30" x2="284.90" y2="298.10" stroke="#262626" stroke-width="1.1"/>
<line x1="284.90" y1="303.80" x2="284.90" y2="312.50" stroke="#262626" stroke-width="1.1"/>
<line x1="282.10" y1="292.30" x2="287.70" y2="292.30" stroke="#262626" stroke-width="1.1"/>
<line x1="284.90" y1="354.60" x2="284.90" y2="365.60" stroke="#262626" stroke-width="1.1"/>
<line x1="282.10" y1="365.60" x2="287.70" y2="365.60" stroke="#262626" stroke-width="1.1"/>
<rect x="279.20" y="312.50" width="11.40" height="42.10" stroke="#262626" stroke-width="1.0" fill="none"/>
<line x1="279.20" y1="346.30" x2="290.60" y2="346.30" stroke="#262626" stroke-width="1.1"/>
<text transform="translate(284.90 351.91) scale(0.9 1)" font-size="4.2" font-weight="normal" font-style="normal" text-anchor="middle" fill="#111" stroke="#111" stroke-width="0.42" filter="url(#tb)">n=36</text>
<line x1="302.00" y1="297.10" x2="302.00" y2="298.10" stroke="#262626" stroke-width="1.1"/>
<line x1="302.00" y1="303.80" x2="302.00" y2="338.60" stroke="#262626" stroke-width="1.1"/>
<line x1="299.20" y1="297.10" x2="304.80" y2="297.10" stroke="#262626" stroke-width="1.1"/>
<line x1="302.00" y1="359.40" x2="302.00" y2="365.20" stroke="#262626" stroke-width="1.1"/>
<line x1="299.20" y1="365.20" x2="304.80" y2="365.20" stroke="#262626" stroke-width="1.1"/>
<rect x="296.50" y="338.60" width="11.00" height="20.80" stroke="#262626" stroke-width="1.0" fill="none"/>
<line x1="296.50" y1="350.80" x2="307.50" y2="350.80" stroke="#262626" stroke-width="1.1"/>
<circle cx="302.00" cy="284.20" r="1.1" fill="#262626"/>
<text transform="translate(302.00 356.51) scale(0.9 1)" font-size="4.2" font-weight="normal" font-style="normal" text-anchor="middle" fill="#111" stroke="#111" stroke-width="0.42" filter="url(#tb)">n=37</text>
<line x1="319.50" y1="297.10" x2="319.50" y2="298.10" stroke="#262626" stroke-width="1.1"/>
<line x1="319.50" y1="303.80" x2="319.50" y2="353.30" stroke="#262626" stroke-width="1.1"/>
<line x1="316.70" y1="297.10" x2="322.30" y2="297.10" stroke="#262626" stroke-width="1.1"/>
<line x1="319.50" y1="362.70" x2="319.50" y2="366.20" stroke="#262626" stroke-width="1.1"/>
<line x1="316.70" y1="366.20" x2="322.30" y2="366.20" stroke="#262626" stroke-width="1.1"/>
<rect x="313.80" y="353.30" width="11.60" height="9.40" stroke="#262626" stroke-width="1.0" fill="none"/>
<line x1="313.80" y1="358.10" x2="325.40" y2="358.10" stroke="#262626" stroke-width="1.1"/>
<circle cx="319.50" cy="291.90" r="1.1" fill="#262626"/>
<text transform="translate(319.50 361.91) scale(0.9 1)" font-size="4.2" font-weight="normal" font-style="normal" text-anchor="middle" fill="#111" stroke="#111" stroke-width="0.42" filter="url(#tb)">n=38</text>
<line x1="336.60" y1="323.80" x2="336.60" y2="359.00" stroke="#262626" stroke-width="1.1"/>
<line x1="333.80" y1="323.80" x2="339.40" y2="323.80" stroke="#262626" stroke-width="1.1"/>
<rect x="330.80" y="359.00" width="11.80" height="7.20" stroke="#262626" stroke-width="1.0" fill="none"/>
<line x1="330.80" y1="363.80" x2="342.60" y2="363.80" stroke="#262626" stroke-width="1.1"/>
<circle cx="336.60" cy="318.80" r="1.1" fill="#262626"/>
<text transform="translate(336.60 362.81) scale(0.9 1)" font-size="4.2" font-weight="normal" font-style="normal" text-anchor="middle" fill="#111" stroke="#111" stroke-width="0.42" filter="url(#tb)">n=37</text>
<line x1="353.80" y1="331.50" x2="353.80" y2="358.80" stroke="#262626" stroke-width="1.1"/>
<line x1="351.00" y1="331.50" x2="356.60" y2="331.50" stroke="#262626" stroke-width="1.1"/>
<rect x="347.90" y="358.80" width="11.90" height="7.40" stroke="#262626" stroke-width="1.0" fill="none"/>
<line x1="347.90" y1="363.70" x2="359.80" y2="363.70" stroke="#262626" stroke-width="1.1"/>
<circle cx="353.80" cy="327.50" r="1.1" fill="#262626"/>
<text transform="translate(353.80 362.81) scale(0.9 1)" font-size="4.2" font-weight="normal" font-style="normal" text-anchor="middle" fill="#111" stroke="#111" stroke-width="0.42" filter="url(#tb)">n=32</text>
<line x1="371.10" y1="343.80" x2="371.10" y2="357.90" stroke="#262626" stroke-width="1.1"/>
<line x1="368.30" y1="343.80" x2="373.90" y2="343.80" stroke="#262626" stroke-width="1.1"/>
<rect x="365.20" y="357.90" width="11.90" height="7.70" stroke="#262626" stroke-width="1.0" fill="none"/>
<line x1="365.20" y1="363.00" x2="377.10" y2="363.00" stroke="#262626" stroke-width="1.1"/>
<circle cx="371.10" cy="339.60" r="1.1" fill="#262626"/>
<text transform="translate(371.10 362.31) scale(0.9 1)" font-size="4.2" font-weight="normal" font-style="normal" text-anchor="middle" fill="#111" stroke="#111" stroke-width="0.42" filter="url(#tb)">n=17</text>
<line x1="388.30" y1="329.40" x2="388.30" y2="360.40" stroke="#262626" stroke-width="1.1"/>
<line x1="385.50" y1="329.40" x2="391.10" y2="329.40" stroke="#262626" stroke-width="1.1"/>
<rect x="382.30" y="360.40" width="12.10" height="5.80" stroke="#262626" stroke-width="1.0" fill="none"/>
<line x1="382.30" y1="364.00" x2="394.40" y2="364.00" stroke="#262626" stroke-width="1.1"/>
<circle cx="388.30" cy="325.60" r="1.1" fill="#262626"/>
<text transform="translate(388.30 364.51) scale(0.9 1)" font-size="4.2" font-weight="normal" font-style="normal" text-anchor="middle" fill="#111" stroke="#111" stroke-width="0.42" filter="url(#tb)">n=34</text>
<rect x="400.20" y="364.20" width="12.10" height="2.70" stroke="#a0a0a0" stroke-width="1.0" fill="none"/>
<line x1="400.20" y1="365.50" x2="412.30" y2="365.50" stroke="#a0a0a0" stroke-width="1.1"/>
<text transform="translate(406.20 362.31) scale(0.9 1)" font-size="4.2" font-weight="normal" font-style="normal" text-anchor="middle" fill="#111" stroke="#111" stroke-width="0.42" filter="url(#tb)">n=10</text>
<path d="M301.70 383.50 L301.70 385.00 Q301.70 385.80 302.70 385.80 L386.70 385.80 Q387.70 385.80 387.70 385.00 L387.70 383.50 M345.00 385.80 L345.00 387.80" stroke="#262626" stroke-width="0.9" fill="none"/>
<text transform="translate(345.30 395.44) scale(1.0 1)" font-size="7.6" font-weight="normal" font-style="normal" text-anchor="middle" fill="#111" stroke="#111" stroke-width="0.42" filter="url(#tb)" textLength="46.50" lengthAdjust="spacingAndGlyphs">Weeks of Treatment</text>
<text transform="translate(344.70 285.75) scale(1.0 1)" font-size="6.8" font-weight="bold" font-style="normal" text-anchor="middle" fill="#111" stroke="#111" stroke-width="0.5" filter="url(#tb)" textLength="19.80" lengthAdjust="spacingAndGlyphs">D-dimer</text>
<text transform="translate(255.45 329.30) rotate(-90) scale(1.0 1)" font-size="6.8" font-weight="bold" font-style="normal" text-anchor="middle" fill="#111" stroke="#111" stroke-width="0.5" filter="url(#tb)" textLength="11.00" lengthAdjust="spacingAndGlyphs">µg/L</text>
<text transform="translate(291.20 293.82)" font-size="7.0" fill="#111" stroke="#111" stroke-width="0.42" filter="url(#tb)" textLength="21.50" lengthAdjust="spacingAndGlyphs"><tspan font-style="italic">P</tspan>&lt;0.0001</text>
<line x1="39.60" y1="446.40" x2="39.60" y2="520.20" stroke="#262626" stroke-width="1.1"/>
<line x1="39.60" y1="433.30" x2="39.60" y2="440.00" stroke="#262626" stroke-width="1.1"/>
<line x1="37.40" y1="440.00" x2="41.80" y2="440.00" stroke="#262626" stroke-width="1.1"/>
<line x1="37.40" y1="446.40" x2="41.80" y2="446.40" stroke="#262626" stroke-width="1.1"/>
<line x1="37.20" y1="433.60" x2="39.60" y2="433.60" stroke="#262626" stroke-width="1.1"/>
<text transform="translate(33.60 436.12) scale(0.85 1)" font-size="7.0" font-weight="normal" font-style="normal" text-anchor="end" fill="#111" stroke="#111" stroke-width="0.42" filter="url(#tb)">1200</text>
<line x1="37.20" y1="440.00" x2="39.60" y2="440.00" stroke="#262626" stroke-width="1.1"/>
<line x1="37.20" y1="446.60" x2="39.60" y2="446.60" stroke="#262626" stroke-width="1.1"/>
<text transform="translate(33.60 449.12) scale(0.85 1)" font-size="7.0" font-weight="normal" font-style="normal" text-anchor="end" fill="#111" stroke="#111" stroke-width="0.42" filter="url(#tb)">150</text>
<line x1="37.20" y1="471.20" x2="39.60" y2="471.20" stroke="#262626" stroke-width="1.1"/>
<text transform="translate(33.60 473.72) scale(0.85 1)" font-size="7.0" font-weight="normal" font-style="normal" text-anchor="end" fill="#111" stroke="#111" stroke-width="0.42" filter="url(#tb)">100</text>
<line x1="37.20" y1="495.90" x2="39.60" y2="495.90" stroke="#262626" stroke-width="1.1"/>
<text transform="translate(33.60 498.42) scale(0.85 1)" font-size="7.0" font-weight="normal" font-style="normal" text-anchor="end" fill="#111" stroke="#111" stroke-width="0.42" filter="url(#tb)">50</text>
<line x1="37.20" y1="520.20" x2="39.60" y2="520.20" stroke="#262626" stroke-width="1.1"/>
<text transform="translate(33.60 522.72) scale(0.85 1)" font-size="7.0" font-weight="normal" font-style="normal" text-anchor="end" fill="#111" stroke="#111" stroke-width="0.42" filter="url(#tb)">0</text>
<line x1="39.60" y1="520.20" x2="167.50" y2="520.20" stroke="#262626" stroke-width="1.1"/>
<line x1="51.00" y1="520.20" x2="51.00" y2="522.40" stroke="#262626" stroke-width="1.1"/>
<text transform="translate(51.00 534.09) scale(0.87 1)" font-size="7.2" font-weight="normal" font-style="normal" text-anchor="middle" fill="#111" stroke="#111" stroke-width="0.42" filter="url(#tb)">BL</text>
<line x1="71.80" y1="520.20" x2="71.80" y2="522.40" stroke="#262626" stroke-width="1.1"/>
<text transform="translate(71.80 534.09) scale(0.87 1)" font-size="7.2" font-weight="normal" font-style="normal" text-anchor="middle" fill="#111" stroke="#111" stroke-width="0.42" filter="url(#tb)">1–2.5</text>
<line x1="92.50" y1="520.20" x2="92.50" y2="522.40" stroke="#262626" stroke-width="1.1"/>
<text transform="translate(92.50 534.09) scale(0.87 1)" font-size="7.2" font-weight="normal" font-style="normal" text-anchor="middle" fill="#111" stroke="#111" stroke-width="0.42" filter="url(#tb)">4–6</text>
<line x1="113.70" y1="520.20" x2="113.70" y2="522.40" stroke="#262626" stroke-width="1.1"/>
<text transform="translate(113.70 534.09) scale(0.87 1)" font-size="7.2" font-weight="normal" font-style="normal" text-anchor="middle" fill="#111" stroke="#111" stroke-width="0.42" filter="url(#tb)">12–17</text>
<line x1="135.20" y1="520.20" x2="135.20" y2="522.40" stroke="#262626" stroke-width="1.1"/>
<text transform="translate(135.20 534.09) scale(0.87 1)" font-size="7.2" font-weight="normal" font-style="normal" text-anchor="middle" fill="#111" stroke="#111" stroke-width="0.42" filter="url(#tb)">17–30</text>
<line x1="156.00" y1="520.20" x2="156.00" y2="522.40" stroke="#262626" stroke-width="1.1"/>
<text transform="translate(156.00 534.09) scale(0.87 1)" font-size="7.2" font-weight="normal" font-style="normal" text-anchor="middle" fill="#111" stroke="#111" stroke-width="0.42" filter="url(#tb)">HV</text>
<line x1="50.40" y1="433.30" x2="50.40" y2="440.00" stroke="#262626" stroke-width="1.1"/>
<line x1="50.40" y1="446.40" x2="50.40" y2="448.00" stroke="#262626" stroke-width="1.1"/>
<line x1="46.90" y1="433.30" x2="53.90" y2="433.30" stroke="#262626" stroke-width="1.1"/>
<line x1="50.40" y1="511.30" x2="50.40" y2="518.50" stroke="#262626" stroke-width="1.1"/>
<line x1="46.90" y1="518.50" x2="53.90" y2="518.50" stroke="#262626" stroke-width="1.1"/>
<rect x="43.30" y="448.00" width="14.40" height="63.30" stroke="#262626" stroke-width="1.0" fill="none"/>
<line x1="43.30" y1="492.20" x2="57.70" y2="492.20" stroke="#262626" stroke-width="1.1"/>
<text transform="translate(50.40 503.26) scale(0.9 1)" font-size="4.6" font-weight="normal" font-style="normal" text-anchor="middle" fill="#111" stroke="#111" stroke-width="0.42" filter="url(#tb)">n=29</text>
<line x1="71.60" y1="439.40" x2="71.60" y2="440.00" stroke="#262626" stroke-width="1.1"/>
<line x1="71.60" y1="446.40" x2="71.60" y2="483.40" stroke="#262626" stroke-width="1.1"/>
<line x1="68.10" y1="439.40" x2="75.10" y2="439.40" stroke="#262626" stroke-width="1.1"/>
<rect x="64.40" y="483.40" width="14.40" height="33.10" stroke="#262626" stroke-width="1.0" fill="none"/>
<line x1="64.40" y1="504.40" x2="78.80" y2="504.40" stroke="#262626" stroke-width="1.1"/>
<circle cx="71.60" cy="424.60" r="1.1" fill="#262626"/>
<text transform="translate(71.60 512.06) scale(0.9 1)" font-size="4.6" font-weight="normal" font-style="normal" text-anchor="middle" fill="#111" stroke="#111" stroke-width="0.42" filter="url(#tb)">n=25</text>
<line x1="92.50" y1="438.50" x2="92.50" y2="440.00" stroke="#262626" stroke-width="1.1"/>
<line x1="92.50" y1="446.40" x2="92.50" y2="501.50" stroke="#262626" stroke-width="1.1"/>
<line x1="89.00" y1="438.50" x2="96.00" y2="438.50" stroke="#262626" stroke-width="1.1"/>
<rect x="85.30" y="501.50" width="14.30" height="15.70" stroke="#262626" stroke-width="1.0" fill="none"/>
<line x1="85.30" y1="507.00" x2="99.60" y2="507.00" stroke="#262626" stroke-width="1.1"/>
<circle cx="92.50" cy="433.50" r="1.1" fill="#262626"/>
<text transform="translate(92.50 513.96) scale(0.9 1)" font-size="4.6" font-weight="normal" font-style="normal" text-anchor="middle" fill="#111" stroke="#111" stroke-width="0.42" filter="url(#tb)">n=24</text>
<line x1="113.70" y1="488.80" x2="113.70" y2="509.00" stroke="#262626" stroke-width="1.1"/>
<line x1="110.20" y1="488.80" x2="117.20" y2="488.80" stroke="#262626" stroke-width="1.1"/>
<rect x="106.50" y="509.00" width="14.30" height="9.70" stroke="#262626" stroke-width="1.0" fill="none"/>
<line x1="106.50" y1="515.80" x2="120.80" y2="515.80" stroke="#262626" stroke-width="1.1"/>
<circle cx="113.70" cy="484.60" r="1.1" fill="#262626"/>
<text transform="translate(113.70 513.96) scale(0.9 1)" font-size="4.6" font-weight="normal" font-style="normal" text-anchor="middle" fill="#111" stroke="#111" stroke-width="0.42" filter="url(#tb)">n=24</text>
<line x1="135.00" y1="481.20" x2="135.00" y2="512.90" stroke="#262626" stroke-width="1.1"/>
<line x1="131.50" y1="481.20" x2="138.50" y2="481.20" stroke="#262626" stroke-width="1.1"/>
<rect x="127.70" y="512.90" width="14.80" height="6.30" stroke="#262626" stroke-width="1.0" fill="none"/>
<line x1="127.70" y1="517.10" x2="142.50" y2="517.10" stroke="#262626" stroke-width="1.1"/>
<circle cx="135.00" cy="475.80" r="1.1" fill="#262626"/>
<text transform="translate(135.00 472.46) scale(0.9 1)" font-size="4.6" font-weight="normal" font-style="normal" text-anchor="middle" fill="#111" stroke="#111" stroke-width="0.42" filter="url(#tb)">n=16</text>
<line x1="156.00" y1="511.50" x2="156.00" y2="515.20" stroke="#262626" stroke-width="1.1"/>
<line x1="152.50" y1="511.50" x2="159.50" y2="511.50" stroke="#a0a0a0" stroke-width="1.1"/>
<rect x="148.80" y="515.20" width="14.50" height="4.00" stroke="#a0a0a0" stroke-width="1.0" fill="none"/>
<line x1="148.80" y1="517.20" x2="163.30" y2="517.20" stroke="#a0a0a0" stroke-width="1.1"/>
<text transform="translate(156.00 508.36) scale(0.9 1)" font-size="4.6" font-weight="normal" font-style="normal" text-anchor="middle" fill="#111" stroke="#111" stroke-width="0.42" filter="url(#tb)">n=9</text>
<path d="M72.00 538.30 L72.00 541.00 Q72.00 541.80 73.00 541.80 L134.80 541.80 Q135.80 541.80 135.80 541.00 L135.80 538.30 M103.50 541.80 L103.50 543.70" stroke="#262626" stroke-width="0.9" fill="none"/>
<text transform="translate(103.50 555.46) scale(1.0 1)" font-size="7.4" font-weight="normal" font-style="normal" text-anchor="middle" fill="#111" stroke="#111" stroke-width="0.42" filter="url(#tb)" textLength="57.00" lengthAdjust="spacingAndGlyphs">Weeks of Treatment</text>
<text transform="translate(103.10 422.45) scale(1.0 1)" font-size="8.2" font-weight="bold" font-style="normal" text-anchor="middle" fill="#111" stroke="#111" stroke-width="0.5" filter="url(#tb)" textLength="28.80" lengthAdjust="spacingAndGlyphs">U-FABP-1</text>
<text transform="translate(13.22 476.40) rotate(-90) scale(1.0 1)" font-size="7.0" font-weight="bold" font-style="normal" text-anchor="middle" fill="#111" stroke="#111" stroke-width="0.5" filter="url(#tb)" textLength="61.00" lengthAdjust="spacingAndGlyphs">ng/mg U-Creatinine</text>
<text transform="translate(57.70 436.65)" font-size="8.2" fill="#111" stroke="#111" stroke-width="0.42" filter="url(#tb)" textLength="26.90" lengthAdjust="spacingAndGlyphs"><tspan font-style="italic">P</tspan>&lt;0.0001</text>
<line x1="220.00" y1="449.80" x2="220.00" y2="520.00" stroke="#262626" stroke-width="1.1"/>
<line x1="220.00" y1="435.10" x2="220.00" y2="443.80" stroke="#262626" stroke-width="1.1"/>
<line x1="217.80" y1="443.80" x2="222.20" y2="443.80" stroke="#262626" stroke-width="1.1"/>
<line x1="217.80" y1="449.80" x2="222.20" y2="449.80" stroke="#262626" stroke-width="1.1"/>
<line x1="217.60" y1="435.30" x2="220.00" y2="435.30" stroke="#262626" stroke-width="1.1"/>
<text transform="translate(214.60 437.82) scale(0.92 1)" font-size="7.0" font-weight="normal" font-style="normal" text-anchor="end" fill="#111" stroke="#111" stroke-width="0.42" filter="url(#tb)">8000</text>
<line x1="217.60" y1="442.50" x2="220.00" y2="442.50" stroke="#262626" stroke-width="1.1"/>
<text transform="translate(214.60 445.02) scale(0.92 1)" font-size="7.0" font-weight="normal" font-style="normal" text-anchor="end" fill="#111" stroke="#111" stroke-width="0.42" filter="url(#tb)">6000</text>
<line x1="217.60" y1="450.20" x2="220.00" y2="450.20" stroke="#262626" stroke-width="1.1"/>
<text transform="translate(214.60 452.72) scale(0.92 1)" font-size="7.0" font-weight="normal" font-style="normal" text-anchor="end" fill="#111" stroke="#111" stroke-width="0.42" filter="url(#tb)">4000</text>
<line x1="217.60" y1="467.70" x2="220.00" y2="467.70" stroke="#262626" stroke-width="1.1"/>
<text transform="translate(214.60 470.22) scale(0.92 1)" font-size="7.0" font-weight="normal" font-style="normal" text-anchor="end" fill="#111" stroke="#111" stroke-width="0.42" filter="url(#tb)">3000</text>
<line x1="217.60" y1="485.10" x2="220.00" y2="485.10" stroke="#262626" stroke-width="1.1"/>
<text transform="translate(214.60 487.62) scale(0.92 1)" font-size="7.0" font-weight="normal" font-style="normal" text-anchor="end" fill="#111" stroke="#111" stroke-width="0.42" filter="url(#tb)">2000</text>
<line x1="217.60" y1="502.60" x2="220.00" y2="502.60" stroke="#262626" stroke-width="1.1"/>
<text transform="translate(214.60 505.12) scale(0.92 1)" font-size="7.0" font-weight="normal" font-style="normal" text-anchor="end" fill="#111" stroke="#111" stroke-width="0.42" filter="url(#tb)">1000</text>
<line x1="217.60" y1="520.00" x2="220.00" y2="520.00" stroke="#262626" stroke-width="1.1"/>
<text transform="translate(214.60 522.52) scale(0.92 1)" font-size="7.0" font-weight="normal" font-style="normal" text-anchor="end" fill="#111" stroke="#111" stroke-width="0.42" filter="url(#tb)">0</text>
<line x1="220.00" y1="520.00" x2="349.40" y2="520.00" stroke="#262626" stroke-width="1.1"/>
<line x1="231.00" y1="520.00" x2="231.00" y2="522.20" stroke="#262626" stroke-width="1.1"/>
<text transform="translate(231.00 533.89) scale(0.87 1)" font-size="7.2" font-weight="normal" font-style="normal" text-anchor="middle" fill="#111" stroke="#111" stroke-width="0.42" filter="url(#tb)">BL</text>
<line x1="252.70" y1="520.00" x2="252.70" y2="522.20" stroke="#262626" stroke-width="1.1"/>
<text transform="translate(252.70 533.89) scale(0.87 1)" font-size="7.2" font-weight="normal" font-style="normal" text-anchor="middle" fill="#111" stroke="#111" stroke-width="0.42" filter="url(#tb)">1–2.5</text>
<line x1="273.90" y1="520.00" x2="273.90" y2="522.20" stroke="#262626" stroke-width="1.1"/>
<text transform="translate(273.90 533.89) scale(0.87 1)" font-size="7.2" font-weight="normal" font-style="normal" text-anchor="middle" fill="#111" stroke="#111" stroke-width="0.42" filter="url(#tb)">4–6</text>
<line x1="295.60" y1="520.00" x2="295.60" y2="522.20" stroke="#262626" stroke-width="1.1"/>
<text transform="translate(295.60 533.89) scale(0.87 1)" font-size="7.2" font-weight="normal" font-style="normal" text-anchor="middle" fill="#111" stroke="#111" stroke-width="0.42" filter="url(#tb)">12–17</text>
<line x1="317.10" y1="520.00" x2="317.10" y2="522.20" stroke="#262626" stroke-width="1.1"/>
<text transform="translate(317.10 533.89) scale(0.87 1)" font-size="7.2" font-weight="normal" font-style="normal" text-anchor="middle" fill="#111" stroke="#111" stroke-width="0.42" filter="url(#tb)">17–30</text>
<line x1="338.50" y1="520.00" x2="338.50" y2="522.20" stroke="#262626" stroke-width="1.1"/>
<text transform="translate(338.50 533.89) scale(0.87 1)" font-size="7.2" font-weight="normal" font-style="normal" text-anchor="middle" fill="#111" stroke="#111" stroke-width="0.42" filter="url(#tb)">HV</text>
<line x1="231.00" y1="438.80" x2="231.00" y2="443.80" stroke="#262626" stroke-width="1.1"/>
<line x1="231.00" y1="449.80" x2="231.00" y2="472.50" stroke="#262626" stroke-width="1.1"/>
<line x1="227.50" y1="438.80" x2="234.50" y2="438.80" stroke="#262626" stroke-width="1.1"/>
<rect x="223.50" y="472.50" width="15.00" height="45.20" stroke="#262626" stroke-width="1.0" fill="none"/>
<line x1="223.50" y1="498.50" x2="238.50" y2="498.50" stroke="#262626" stroke-width="1.1"/>
<text transform="translate(231.00 508.76) scale(0.9 1)" font-size="4.6" font-weight="normal" font-style="normal" text-anchor="middle" fill="#111" stroke="#111" stroke-width="0.42" filter="url(#tb)">n=26</text>
<line x1="252.60" y1="459.00" x2="252.60" y2="502.90" stroke="#262626" stroke-width="1.1"/>
<line x1="249.10" y1="459.00" x2="256.10" y2="459.00" stroke="#262626" stroke-width="1.1"/>
<rect x="245.40" y="502.90" width="14.40" height="17.10" stroke="#262626" stroke-width="1.0" fill="none"/>
<line x1="245.40" y1="515.40" x2="259.80" y2="515.40" stroke="#262626" stroke-width="1.1"/>
<circle cx="252.60" cy="444.20" r="1.1" fill="#262626"/>
<text transform="translate(252.60 510.66) scale(0.9 1)" font-size="4.6" font-weight="normal" font-style="normal" text-anchor="middle" fill="#111" stroke="#111" stroke-width="0.42" filter="url(#tb)">n=25</text>
<line x1="273.90" y1="480.20" x2="273.90" y2="510.40" stroke="#262626" stroke-width="1.1"/>
<line x1="270.40" y1="480.20" x2="277.40" y2="480.20" stroke="#262626" stroke-width="1.1"/>
<rect x="266.40" y="510.40" width="15.10" height="8.30" stroke="#262626" stroke-width="1.0" fill="none"/>
<line x1="266.40" y1="518.00" x2="281.50" y2="518.00" stroke="#262626" stroke-width="1.1"/>
<circle cx="273.90" cy="475.20" r="1.1" fill="#262626"/>
<text transform="translate(273.90 516.46) scale(0.9 1)" font-size="4.6" font-weight="normal" font-style="normal" text-anchor="middle" fill="#111" stroke="#111" stroke-width="0.42" filter="url(#tb)">n=27</text>
<line x1="295.60" y1="501.00" x2="295.60" y2="517.70" stroke="#262626" stroke-width="1.1"/>
<line x1="292.10" y1="501.00" x2="299.10" y2="501.00" stroke="#262626" stroke-width="1.1"/>
<rect x="288.50" y="517.70" width="14.20" height="1.50" stroke="#262626" stroke-width="1.0" fill="#444"/>
<circle cx="295.60" cy="496.50" r="1.1" fill="#262626"/>
<text transform="translate(295.60 492.46) scale(0.9 1)" font-size="4.6" font-weight="normal" font-style="normal" text-anchor="middle" fill="#111" stroke="#111" stroke-width="0.42" filter="url(#tb)">n=28</text>
<line x1="317.00" y1="496.50" x2="317.00" y2="517.30" stroke="#262626" stroke-width="1.1"/>
<line x1="313.50" y1="496.50" x2="320.50" y2="496.50" stroke="#262626" stroke-width="1.1"/>
<rect x="309.60" y="517.30" width="14.80" height="1.90" stroke="#262626" stroke-width="1.0" fill="#444"/>
<circle cx="317.00" cy="492.70" r="1.1" fill="#262626"/>
<text transform="translate(317.00 488.56) scale(0.9 1)" font-size="4.6" font-weight="normal" font-style="normal" text-anchor="middle" fill="#111" stroke="#111" stroke-width="0.42" filter="url(#tb)">n=17</text>
<line x1="338.40" y1="514.40" x2="338.40" y2="516.70" stroke="#262626" stroke-width="1.1"/>
<line x1="334.90" y1="514.40" x2="341.90" y2="514.40" stroke="#a0a0a0" stroke-width="1.1"/>
<rect x="331.20" y="516.70" width="14.40" height="2.50" stroke="#a0a0a0" stroke-width="1.0" fill="none"/>
<line x1="331.20" y1="518.00" x2="345.60" y2="518.00" stroke="#a0a0a0" stroke-width="1.1"/>
<text transform="translate(338.40 509.76) scale(0.9 1)" font-size="4.6" font-weight="normal" font-style="normal" text-anchor="middle" fill="#111" stroke="#111" stroke-width="0.42" filter="url(#tb)">n=9</text>
<path d="M253.00 538.50 L253.00 540.90 Q253.00 541.70 254.00 541.70 L316.10 541.70 Q317.10 541.70 317.10 540.90 L317.10 538.50 M285.00 541.70 L285.00 543.70" stroke="#262626" stroke-width="0.9" fill="none"/>
<text transform="translate(285.00 553.86) scale(1.0 1)" font-size="7.4" font-weight="normal" font-style="normal" text-anchor="middle" fill="#111" stroke="#111" stroke-width="0.42" filter="url(#tb)" textLength="57.80" lengthAdjust="spacingAndGlyphs">Weeks of Treatment</text>
<text transform="translate(285.00 423.95) scale(1.0 1)" font-size="8.2" font-weight="bold" font-style="normal" text-anchor="middle" fill="#111" stroke="#111" stroke-width="0.5" filter="url(#tb)" textLength="25.00" lengthAdjust="spacingAndGlyphs">U-Cys C</text>
<text transform="translate(194.02 477.30) rotate(-90) scale(1.0 1)" font-size="7.0" font-weight="bold" font-style="normal" text-anchor="middle" fill="#111" stroke="#111" stroke-width="0.5" filter="url(#tb)" textLength="60.00" lengthAdjust="spacingAndGlyphs">ng/mg U-Creatinine</text>
<text transform="translate(238.70 455.25)" font-size="8.2" fill="#111" stroke="#111" stroke-width="0.42" filter="url(#tb)" textLength="27.50" lengthAdjust="spacingAndGlyphs"><tspan font-style="italic">P</tspan>&lt;0.0001</text>
<line x1="393.30" y1="453.80" x2="393.30" y2="520.20" stroke="#262626" stroke-width="1.1"/>
<line x1="393.30" y1="440.80" x2="393.30" y2="447.50" stroke="#262626" stroke-width="1.1"/>
<line x1="391.10" y1="447.50" x2="395.50" y2="447.50" stroke="#262626" stroke-width="1.1"/>
<line x1="391.10" y1="453.80" x2="395.50" y2="453.80" stroke="#262626" stroke-width="1.1"/>
<line x1="390.90" y1="440.80" x2="393.30" y2="440.80" stroke="#262626" stroke-width="1.1"/>
<text transform="translate(388.30 443.32) scale(0.92 1)" font-size="7.0" font-weight="normal" font-style="normal" text-anchor="end" fill="#111" stroke="#111" stroke-width="0.42" filter="url(#tb)">300</text>
<line x1="390.90" y1="446.50" x2="393.30" y2="446.50" stroke="#262626" stroke-width="1.1"/>
<text transform="translate(388.30 449.02) scale(0.92 1)" font-size="7.0" font-weight="normal" font-style="normal" text-anchor="end" fill="#111" stroke="#111" stroke-width="0.42" filter="url(#tb)">150</text>
<line x1="390.90" y1="453.80" x2="393.30" y2="453.80" stroke="#262626" stroke-width="1.1"/>
<line x1="390.90" y1="460.40" x2="393.30" y2="460.40" stroke="#262626" stroke-width="1.1"/>
<text transform="translate(388.30 462.92) scale(0.92 1)" font-size="7.0" font-weight="normal" font-style="normal" text-anchor="end" fill="#111" stroke="#111" stroke-width="0.42" filter="url(#tb)">80</text>
<line x1="390.90" y1="475.40" x2="393.30" y2="475.40" stroke="#262626" stroke-width="1.1"/>
<text transform="translate(388.30 477.92) scale(0.92 1)" font-size="7.0" font-weight="normal" font-style="normal" text-anchor="end" fill="#111" stroke="#111" stroke-width="0.42" filter="url(#tb)">60</text>
<line x1="390.90" y1="490.40" x2="393.30" y2="490.40" stroke="#262626" stroke-width="1.1"/>
<text transform="translate(388.30 492.92) scale(0.92 1)" font-size="7.0" font-weight="normal" font-style="normal" text-anchor="end" fill="#111" stroke="#111" stroke-width="0.42" filter="url(#tb)">40</text>
<line x1="390.90" y1="505.20" x2="393.30" y2="505.20" stroke="#262626" stroke-width="1.1"/>
<text transform="translate(388.30 507.72) scale(0.92 1)" font-size="7.0" font-weight="normal" font-style="normal" text-anchor="end" fill="#111" stroke="#111" stroke-width="0.42" filter="url(#tb)">20</text>
<line x1="390.90" y1="520.00" x2="393.30" y2="520.00" stroke="#262626" stroke-width="1.1"/>
<text transform="translate(388.30 522.52) scale(0.92 1)" font-size="7.0" font-weight="normal" font-style="normal" text-anchor="end" fill="#111" stroke="#111" stroke-width="0.42" filter="url(#tb)">0</text>
<line x1="393.30" y1="520.20" x2="514.20" y2="520.20" stroke="#262626" stroke-width="1.1"/>
<line x1="403.70" y1="520.20" x2="403.70" y2="522.40" stroke="#262626" stroke-width="1.1"/>
<text transform="translate(403.70 533.59) scale(0.87 1)" font-size="7.2" font-weight="normal" font-style="normal" text-anchor="middle" fill="#111" stroke="#111" stroke-width="0.42" filter="url(#tb)">BL</text>
<line x1="423.50" y1="520.20" x2="423.50" y2="522.40" stroke="#262626" stroke-width="1.1"/>
<text transform="translate(423.50 533.59) scale(0.87 1)" font-size="7.2" font-weight="normal" font-style="normal" text-anchor="middle" fill="#111" stroke="#111" stroke-width="0.42" filter="url(#tb)">1–2.5</text>
<line x1="443.50" y1="520.20" x2="443.50" y2="522.40" stroke="#262626" stroke-width="1.1"/>
<text transform="translate(443.50 533.59) scale(0.87 1)" font-size="7.2" font-weight="normal" font-style="normal" text-anchor="middle" fill="#111" stroke="#111" stroke-width="0.42" filter="url(#tb)">4–6</text>
<line x1="463.80" y1="520.20" x2="463.80" y2="522.40" stroke="#262626" stroke-width="1.1"/>
<text transform="translate(463.80 533.59) scale(0.87 1)" font-size="7.2" font-weight="normal" font-style="normal" text-anchor="middle" fill="#111" stroke="#111" stroke-width="0.42" filter="url(#tb)">12–17</text>
<line x1="483.50" y1="520.20" x2="483.50" y2="522.40" stroke="#262626" stroke-width="1.1"/>
<text transform="translate(483.50 533.59) scale(0.87 1)" font-size="7.2" font-weight="normal" font-style="normal" text-anchor="middle" fill="#111" stroke="#111" stroke-width="0.42" filter="url(#tb)">17–30</text>
<line x1="503.70" y1="520.20" x2="503.70" y2="522.40" stroke="#262626" stroke-width="1.1"/>
<text transform="translate(503.70 533.59) scale(0.87 1)" font-size="7.2" font-weight="normal" font-style="normal" text-anchor="middle" fill="#111" stroke="#111" stroke-width="0.42" filter="url(#tb)">HV</text>
<line x1="403.70" y1="443.10" x2="403.70" y2="447.50" stroke="#262626" stroke-width="1.1"/>
<line x1="403.70" y1="453.80" x2="403.70" y2="472.70" stroke="#262626" stroke-width="1.1"/>
<line x1="400.20" y1="443.10" x2="407.20" y2="443.10" stroke="#262626" stroke-width="1.1"/>
<rect x="397.00" y="472.70" width="13.40" height="44.60" stroke="#262626" stroke-width="1.0" fill="none"/>
<line x1="397.00" y1="503.30" x2="410.40" y2="503.30" stroke="#262626" stroke-width="1.1"/>
<text transform="translate(403.70 512.66) scale(0.9 1)" font-size="4.6" font-weight="normal" font-style="normal" text-anchor="middle" fill="#111" stroke="#111" stroke-width="0.42" filter="url(#tb)">n=29</text>
<line x1="423.50" y1="441.70" x2="423.50" y2="447.50" stroke="#262626" stroke-width="1.1"/>
<line x1="423.50" y1="453.80" x2="423.50" y2="502.90" stroke="#262626" stroke-width="1.1"/>
<line x1="420.00" y1="441.70" x2="427.00" y2="441.70" stroke="#262626" stroke-width="1.1"/>
<rect x="416.50" y="502.90" width="14.10" height="15.20" stroke="#262626" stroke-width="1.0" fill="none"/>
<line x1="416.50" y1="508.50" x2="430.60" y2="508.50" stroke="#262626" stroke-width="1.1"/>
<circle cx="423.50" cy="428.30" r="1.1" fill="#262626"/>
<text transform="translate(423.50 515.16) scale(0.9 1)" font-size="4.6" font-weight="normal" font-style="normal" text-anchor="middle" fill="#111" stroke="#111" stroke-width="0.42" filter="url(#tb)">n=28</text>
<line x1="443.50" y1="454.00" x2="443.50" y2="513.70" stroke="#262626" stroke-width="1.1"/>
<line x1="440.00" y1="454.00" x2="447.00" y2="454.00" stroke="#262626" stroke-width="1.1"/>
<rect x="436.30" y="513.70" width="14.50" height="5.00" stroke="#262626" stroke-width="1.0" fill="none"/>
<line x1="436.30" y1="515.80" x2="450.80" y2="515.80" stroke="#262626" stroke-width="1.1"/>
<circle cx="443.50" cy="449.70" r="1.1" fill="#262626"/>
<text transform="translate(443.50 446.26) scale(0.9 1)" font-size="4.6" font-weight="normal" font-style="normal" text-anchor="middle" fill="#111" stroke="#111" stroke-width="0.42" filter="url(#tb)">n=28</text>
<line x1="463.80" y1="498.50" x2="463.80" y2="517.70" stroke="#262626" stroke-width="1.1"/>
<line x1="460.30" y1="498.50" x2="467.30" y2="498.50" stroke="#262626" stroke-width="1.1"/>
<rect x="456.90" y="517.70" width="13.50" height="1.70" stroke="#262626" stroke-width="1.0" fill="#444"/>
<circle cx="463.80" cy="493.10" r="1.1" fill="#262626"/>
<text transform="translate(463.80 490.16) scale(0.9 1)" font-size="4.6" font-weight="normal" font-style="normal" text-anchor="middle" fill="#111" stroke="#111" stroke-width="0.42" filter="url(#tb)">n=28</text>
<line x1="483.50" y1="502.30" x2="483.50" y2="517.70" stroke="#262626" stroke-width="1.1"/>
<line x1="480.00" y1="502.30" x2="487.00" y2="502.30" stroke="#262626" stroke-width="1.1"/>
<rect x="476.70" y="517.70" width="13.90" height="1.70" stroke="#262626" stroke-width="1.0" fill="#444"/>
<circle cx="483.50" cy="497.90" r="1.1" fill="#262626"/>
<text transform="translate(483.50 492.86) scale(0.9 1)" font-size="4.6" font-weight="normal" font-style="normal" text-anchor="middle" fill="#111" stroke="#111" stroke-width="0.42" filter="url(#tb)">n=17</text>
<line x1="503.70" y1="515.80" x2="503.70" y2="517.50" stroke="#262626" stroke-width="1.1"/>
<line x1="500.20" y1="515.80" x2="507.20" y2="515.80" stroke="#a0a0a0" stroke-width="1.1"/>
<rect x="497.00" y="517.50" width="13.50" height="1.20" stroke="#a0a0a0" stroke-width="1.0" fill="none"/>
<text transform="translate(503.70 513.96) scale(0.9 1)" font-size="4.6" font-weight="normal" font-style="normal" text-anchor="middle" fill="#111" stroke="#111" stroke-width="0.42" filter="url(#tb)">n=9</text>
<path d="M423.80 538.80 L423.80 540.20 Q423.80 541.00 424.80 541.00 L482.50 541.00 Q483.50 541.00 483.50 540.20 L483.50 538.80 M453.70 541.00 L453.70 543.00" stroke="#262626" stroke-width="0.9" fill="none"/>
<text transform="translate(454.00 552.86) scale(1.0 1)" font-size="7.4" font-weight="normal" font-style="normal" text-anchor="middle" fill="#111" stroke="#111" stroke-width="0.42" filter="url(#tb)" textLength="54.50" lengthAdjust="spacingAndGlyphs">Weeks of Treatment</text>
<text transform="translate(453.50 430.95) scale(1.0 1)" font-size="8.2" font-weight="bold" font-style="normal" text-anchor="middle" fill="#111" stroke="#111" stroke-width="0.5" filter="url(#tb)" textLength="25.40" lengthAdjust="spacingAndGlyphs">U-TIMP-1</text>
<text transform="translate(370.12 480.70) rotate(-90) scale(1.0 1)" font-size="7.0" font-weight="bold" font-style="normal" text-anchor="middle" fill="#111" stroke="#111" stroke-width="0.5" filter="url(#tb)" textLength="55.00" lengthAdjust="spacingAndGlyphs">ng/mg U-Creatinine</text>
<text transform="translate(410.40 438.55)" font-size="8.2" fill="#111" stroke="#111" stroke-width="0.42" filter="url(#tb)" textLength="25.90" lengthAdjust="spacingAndGlyphs"><tspan font-style="italic">P</tspan>=0.0036</text>
<line x1="149.60" y1="598.70" x2="149.60" y2="659.20" stroke="#262626" stroke-width="1.1"/>
<line x1="149.60" y1="585.80" x2="149.60" y2="593.50" stroke="#262626" stroke-width="1.1"/>
<line x1="147.40" y1="593.50" x2="151.80" y2="593.50" stroke="#262626" stroke-width="1.1"/>
<line x1="147.40" y1="598.70" x2="151.80" y2="598.70" stroke="#262626" stroke-width="1.1"/>
<line x1="147.20" y1="585.80" x2="149.60" y2="585.80" stroke="#262626" stroke-width="1.1"/>
<text transform="translate(144.60 588.32) scale(0.8 1)" font-size="7.0" font-weight="normal" font-style="normal" text-anchor="end" fill="#111" stroke="#111" stroke-width="0.42" filter="url(#tb)">7000</text>
<line x1="147.20" y1="592.60" x2="149.60" y2="592.60" stroke="#262626" stroke-width="1.1"/>
<text transform="translate(144.60 595.12) scale(0.8 1)" font-size="7.0" font-weight="normal" font-style="normal" text-anchor="end" fill="#111" stroke="#111" stroke-width="0.42" filter="url(#tb)">5000</text>
<line x1="147.20" y1="598.50" x2="149.60" y2="598.50" stroke="#262626" stroke-width="1.1"/>
<text transform="translate(144.60 601.02) scale(0.8 1)" font-size="7.0" font-weight="normal" font-style="normal" text-anchor="end" fill="#111" stroke="#111" stroke-width="0.42" filter="url(#tb)">3000</text>
<line x1="147.20" y1="618.90" x2="149.60" y2="618.90" stroke="#262626" stroke-width="1.1"/>
<text transform="translate(144.60 621.42) scale(0.8 1)" font-size="7.0" font-weight="normal" font-style="normal" text-anchor="end" fill="#111" stroke="#111" stroke-width="0.42" filter="url(#tb)">2000</text>
<line x1="147.20" y1="639.00" x2="149.60" y2="639.00" stroke="#262626" stroke-width="1.1"/>
<text transform="translate(144.60 641.52) scale(0.8 1)" font-size="7.0" font-weight="normal" font-style="normal" text-anchor="end" fill="#111" stroke="#111" stroke-width="0.42" filter="url(#tb)">1000</text>
<line x1="147.20" y1="659.20" x2="149.60" y2="659.20" stroke="#262626" stroke-width="1.1"/>
<text transform="translate(144.60 661.72) scale(0.8 1)" font-size="7.0" font-weight="normal" font-style="normal" text-anchor="end" fill="#111" stroke="#111" stroke-width="0.42" filter="url(#tb)">0</text>
<line x1="149.60" y1="659.20" x2="259.80" y2="659.20" stroke="#262626" stroke-width="1.1"/>
<line x1="158.30" y1="659.20" x2="158.30" y2="661.40" stroke="#262626" stroke-width="1.1"/>
<text transform="translate(158.30 671.09) scale(0.72 1)" font-size="7.2" font-weight="normal" font-style="normal" text-anchor="middle" fill="#111" stroke="#111" stroke-width="0.42" filter="url(#tb)">BL</text>
<line x1="176.90" y1="659.20" x2="176.90" y2="661.40" stroke="#262626" stroke-width="1.1"/>
<text transform="translate(176.90 671.09) scale(0.72 1)" font-size="7.2" font-weight="normal" font-style="normal" text-anchor="middle" fill="#111" stroke="#111" stroke-width="0.42" filter="url(#tb)">1–2.5</text>
<line x1="195.10" y1="659.20" x2="195.10" y2="661.40" stroke="#262626" stroke-width="1.1"/>
<text transform="translate(195.10 671.09) scale(0.72 1)" font-size="7.2" font-weight="normal" font-style="normal" text-anchor="middle" fill="#111" stroke="#111" stroke-width="0.42" filter="url(#tb)">4–6</text>
<line x1="213.10" y1="659.20" x2="213.10" y2="661.40" stroke="#262626" stroke-width="1.1"/>
<text transform="translate(213.10 671.09) scale(0.72 1)" font-size="7.2" font-weight="normal" font-style="normal" text-anchor="middle" fill="#111" stroke="#111" stroke-width="0.42" filter="url(#tb)">12–17</text>
<line x1="231.50" y1="659.20" x2="231.50" y2="661.40" stroke="#262626" stroke-width="1.1"/>
<text transform="translate(231.50 671.09) scale(0.72 1)" font-size="7.2" font-weight="normal" font-style="normal" text-anchor="middle" fill="#111" stroke="#111" stroke-width="0.42" filter="url(#tb)">17–30</text>
<line x1="249.60" y1="659.20" x2="249.60" y2="661.40" stroke="#262626" stroke-width="1.1"/>
<text transform="translate(249.60 671.09) scale(0.72 1)" font-size="7.2" font-weight="normal" font-style="normal" text-anchor="middle" fill="#111" stroke="#111" stroke-width="0.42" filter="url(#tb)">HV</text>
<line x1="158.40" y1="587.70" x2="158.40" y2="593.50" stroke="#262626" stroke-width="1.1"/>
<line x1="158.40" y1="598.70" x2="158.40" y2="607.30" stroke="#262626" stroke-width="1.1"/>
<line x1="155.20" y1="587.70" x2="161.60" y2="587.70" stroke="#262626" stroke-width="1.1"/>
<line x1="158.40" y1="648.10" x2="158.40" y2="656.00" stroke="#262626" stroke-width="1.1"/>
<line x1="155.20" y1="656.00" x2="161.60" y2="656.00" stroke="#262626" stroke-width="1.1"/>
<rect x="152.30" y="607.30" width="12.10" height="40.80" stroke="#262626" stroke-width="1.0" fill="none"/>
<line x1="152.30" y1="634.20" x2="164.40" y2="634.20" stroke="#262626" stroke-width="1.1"/>
<text transform="translate(158.40 642.66) scale(0.9 1)" font-size="4.6" font-weight="normal" font-style="normal" text-anchor="middle" fill="#111" stroke="#111" stroke-width="0.42" filter="url(#tb)">n=28</text>
<line x1="176.70" y1="591.00" x2="176.70" y2="593.50" stroke="#262626" stroke-width="1.1"/>
<line x1="176.70" y1="598.70" x2="176.70" y2="626.70" stroke="#262626" stroke-width="1.1"/>
<line x1="173.50" y1="591.00" x2="179.90" y2="591.00" stroke="#262626" stroke-width="1.1"/>
<line x1="176.70" y1="654.40" x2="176.70" y2="659.00" stroke="#262626" stroke-width="1.1"/>
<line x1="173.50" y1="659.00" x2="179.90" y2="659.00" stroke="#262626" stroke-width="1.1"/>
<rect x="170.20" y="626.70" width="12.90" height="27.70" stroke="#262626" stroke-width="1.0" fill="none"/>
<line x1="170.20" y1="646.20" x2="183.10" y2="646.20" stroke="#262626" stroke-width="1.1"/>
<circle cx="176.70" cy="578.80" r="1.1" fill="#262626"/>
<text transform="translate(176.70 651.66) scale(0.9 1)" font-size="4.6" font-weight="normal" font-style="normal" text-anchor="middle" fill="#111" stroke="#111" stroke-width="0.42" filter="url(#tb)">n=28</text>
<line x1="195.10" y1="592.60" x2="195.10" y2="593.50" stroke="#262626" stroke-width="1.1"/>
<line x1="195.10" y1="598.70" x2="195.10" y2="647.50" stroke="#262626" stroke-width="1.1"/>
<line x1="191.90" y1="592.60" x2="198.30" y2="592.60" stroke="#262626" stroke-width="1.1"/>
<line x1="195.10" y1="656.00" x2="195.10" y2="659.00" stroke="#262626" stroke-width="1.1"/>
<line x1="191.90" y1="659.00" x2="198.30" y2="659.00" stroke="#262626" stroke-width="1.1"/>
<rect x="189.00" y="647.50" width="12.50" height="8.50" stroke="#262626" stroke-width="1.0" fill="none"/>
<line x1="189.00" y1="650.60" x2="201.50" y2="650.60" stroke="#262626" stroke-width="1.1"/>
<circle cx="195.10" cy="588.70" r="1.1" fill="#262626"/>
<text transform="translate(195.10 655.16) scale(0.9 1)" font-size="4.6" font-weight="normal" font-style="normal" text-anchor="middle" fill="#111" stroke="#111" stroke-width="0.42" filter="url(#tb)">n=28</text>
<line x1="213.10" y1="641.90" x2="213.10" y2="654.40" stroke="#262626" stroke-width="1.1"/>
<line x1="209.90" y1="641.90" x2="216.30" y2="641.90" stroke="#262626" stroke-width="1.1"/>
<rect x="206.90" y="654.40" width="12.50" height="2.90" stroke="#262626" stroke-width="1.0" fill="none"/>
<line x1="206.90" y1="656.00" x2="219.40" y2="656.00" stroke="#262626" stroke-width="1.1"/>
<circle cx="213.10" cy="637.70" r="1.1" fill="#262626"/>
<text transform="translate(213.10 634.96) scale(0.9 1)" font-size="4.6" font-weight="normal" font-style="normal" text-anchor="middle" fill="#111" stroke="#111" stroke-width="0.42" filter="url(#tb)">n=28</text>
<line x1="231.50" y1="640.00" x2="231.50" y2="653.50" stroke="#262626" stroke-width="1.1"/>
<line x1="228.30" y1="640.00" x2="234.70" y2="640.00" stroke="#262626" stroke-width="1.1"/>
<rect x="225.20" y="653.50" width="12.50" height="3.20" stroke="#262626" stroke-width="1.0" fill="none"/>
<line x1="225.20" y1="655.50" x2="237.70" y2="655.50" stroke="#262626" stroke-width="1.1"/>
<circle cx="231.50" cy="637.10" r="1.1" fill="#262626"/>
<text transform="translate(231.50 634.56) scale(0.9 1)" font-size="4.6" font-weight="normal" font-style="normal" text-anchor="middle" fill="#111" stroke="#111" stroke-width="0.42" filter="url(#tb)">n=17</text>
<line x1="249.70" y1="650.60" x2="249.70" y2="652.90" stroke="#262626" stroke-width="1.1"/>
<line x1="246.50" y1="650.60" x2="252.90" y2="650.60" stroke="#a0a0a0" stroke-width="1.1"/>
<rect x="243.50" y="652.90" width="12.50" height="4.80" stroke="#a0a0a0" stroke-width="1.0" fill="none"/>
<line x1="243.50" y1="655.00" x2="256.00" y2="655.00" stroke="#a0a0a0" stroke-width="1.1"/>
<text transform="translate(249.70 646.06) scale(0.9 1)" font-size="4.6" font-weight="normal" font-style="normal" text-anchor="middle" fill="#111" stroke="#111" stroke-width="0.42" filter="url(#tb)">n=8</text>
<path d="M176.90 674.60 L176.90 676.80 Q176.90 677.60 177.90 677.60 L230.50 677.60 Q231.50 677.60 231.50 676.80 L231.50 674.60 M204.00 677.60 L204.00 679.60" stroke="#262626" stroke-width="0.9" fill="none"/>
<text transform="translate(204.40 688.26) scale(1.0 1)" font-size="7.4" font-weight="normal" font-style="normal" text-anchor="middle" fill="#111" stroke="#111" stroke-width="0.42" filter="url(#tb)" textLength="49.20" lengthAdjust="spacingAndGlyphs">Weeks of Treatment</text>
<text transform="translate(204.30 576.75) scale(1.0 1)" font-size="8.2" font-weight="bold" font-style="normal" text-anchor="middle" fill="#111" stroke="#111" stroke-width="0.5" filter="url(#tb)" textLength="14.80" lengthAdjust="spacingAndGlyphs">U-Clu</text>
<text transform="translate(127.12 622.70) rotate(-90) scale(1.0 1)" font-size="7.0" font-weight="bold" font-style="normal" text-anchor="middle" fill="#111" stroke="#111" stroke-width="0.5" filter="url(#tb)" textLength="50.00" lengthAdjust="spacingAndGlyphs">ng/mg U-Creatinine</text>
<text transform="translate(165.40 589.45)" font-size="8.2" fill="#111" stroke="#111" stroke-width="0.42" filter="url(#tb)" textLength="23.10" lengthAdjust="spacingAndGlyphs"><tspan font-style="italic">P</tspan>&lt;0.0001</text>
<line x1="303.90" y1="597.70" x2="303.90" y2="658.80" stroke="#262626" stroke-width="1.1"/>
<line x1="303.90" y1="585.80" x2="303.90" y2="593.50" stroke="#262626" stroke-width="1.1"/>
<line x1="301.70" y1="593.50" x2="306.10" y2="593.50" stroke="#262626" stroke-width="1.1"/>
<line x1="301.70" y1="597.70" x2="306.10" y2="597.70" stroke="#262626" stroke-width="1.1"/>
<line x1="301.50" y1="585.80" x2="303.90" y2="585.80" stroke="#262626" stroke-width="1.1"/>
<text transform="translate(299.10 588.32) scale(0.85 1)" font-size="7.0" font-weight="normal" font-style="normal" text-anchor="end" fill="#111" stroke="#111" stroke-width="0.42" filter="url(#tb)">200</text>
<line x1="301.50" y1="592.90" x2="303.90" y2="592.90" stroke="#262626" stroke-width="1.1"/>
<text transform="translate(299.10 595.42) scale(0.85 1)" font-size="7.0" font-weight="normal" font-style="normal" text-anchor="end" fill="#111" stroke="#111" stroke-width="0.42" filter="url(#tb)">125</text>
<line x1="301.50" y1="597.70" x2="303.90" y2="597.70" stroke="#262626" stroke-width="1.1"/>
<line x1="301.50" y1="609.20" x2="303.90" y2="609.20" stroke="#262626" stroke-width="1.1"/>
<text transform="translate(299.10 611.72) scale(0.85 1)" font-size="7.0" font-weight="normal" font-style="normal" text-anchor="end" fill="#111" stroke="#111" stroke-width="0.42" filter="url(#tb)">60</text>
<line x1="301.50" y1="624.40" x2="303.90" y2="624.40" stroke="#262626" stroke-width="1.1"/>
<text transform="translate(299.10 626.92) scale(0.85 1)" font-size="7.0" font-weight="normal" font-style="normal" text-anchor="end" fill="#111" stroke="#111" stroke-width="0.42" filter="url(#tb)">40</text>
<line x1="301.50" y1="639.60" x2="303.90" y2="639.60" stroke="#262626" stroke-width="1.1"/>
<text transform="translate(299.10 642.12) scale(0.85 1)" font-size="7.0" font-weight="normal" font-style="normal" text-anchor="end" fill="#111" stroke="#111" stroke-width="0.42" filter="url(#tb)">20</text>
<line x1="301.50" y1="654.40" x2="303.90" y2="654.40" stroke="#262626" stroke-width="1.1"/>
<text transform="translate(299.10 656.92) scale(0.85 1)" font-size="7.0" font-weight="normal" font-style="normal" text-anchor="end" fill="#111" stroke="#111" stroke-width="0.42" filter="url(#tb)">0</text>
<line x1="303.90" y1="658.80" x2="413.50" y2="658.80" stroke="#262626" stroke-width="1.1"/>
<line x1="313.30" y1="658.80" x2="313.30" y2="661.00" stroke="#262626" stroke-width="1.1"/>
<text transform="translate(313.30 670.79) scale(0.72 1)" font-size="7.2" font-weight="normal" font-style="normal" text-anchor="middle" fill="#111" stroke="#111" stroke-width="0.42" filter="url(#tb)">BL</text>
<line x1="331.50" y1="658.80" x2="331.50" y2="661.00" stroke="#262626" stroke-width="1.1"/>
<text transform="translate(331.50 670.79) scale(0.72 1)" font-size="7.2" font-weight="normal" font-style="normal" text-anchor="middle" fill="#111" stroke="#111" stroke-width="0.42" filter="url(#tb)">1–2.5</text>
<line x1="349.50" y1="658.80" x2="349.50" y2="661.00" stroke="#262626" stroke-width="1.1"/>
<text transform="translate(349.50 670.79) scale(0.72 1)" font-size="7.2" font-weight="normal" font-style="normal" text-anchor="middle" fill="#111" stroke="#111" stroke-width="0.42" filter="url(#tb)">4–6</text>
<line x1="368.30" y1="658.80" x2="368.30" y2="661.00" stroke="#262626" stroke-width="1.1"/>
<text transform="translate(368.30 670.79) scale(0.72 1)" font-size="7.2" font-weight="normal" font-style="normal" text-anchor="middle" fill="#111" stroke="#111" stroke-width="0.42" filter="url(#tb)">12–17</text>
<line x1="386.20" y1="658.80" x2="386.20" y2="661.00" stroke="#262626" stroke-width="1.1"/>
<text transform="translate(386.20 670.79) scale(0.72 1)" font-size="7.2" font-weight="normal" font-style="normal" text-anchor="middle" fill="#111" stroke="#111" stroke-width="0.42" filter="url(#tb)">17–30</text>
<line x1="404.80" y1="658.80" x2="404.80" y2="661.00" stroke="#262626" stroke-width="1.1"/>
<text transform="translate(404.80 670.79) scale(0.72 1)" font-size="7.2" font-weight="normal" font-style="normal" text-anchor="middle" fill="#111" stroke="#111" stroke-width="0.42" filter="url(#tb)">HV</text>
<line x1="313.30" y1="597.70" x2="313.30" y2="608.30" stroke="#262626" stroke-width="1.1"/>
<line x1="310.10" y1="591.00" x2="316.50" y2="591.00" stroke="#262626" stroke-width="1.1"/>
<rect x="307.20" y="608.30" width="12.30" height="45.50" stroke="#262626" stroke-width="1.0" fill="none"/>
<line x1="307.20" y1="640.60" x2="319.50" y2="640.60" stroke="#262626" stroke-width="1.1"/>
<text transform="translate(313.30 648.36) scale(0.9 1)" font-size="4.6" font-weight="normal" font-style="normal" text-anchor="middle" fill="#111" stroke="#111" stroke-width="0.42" filter="url(#tb)">n=28</text>
<line x1="331.50" y1="588.50" x2="331.50" y2="593.50" stroke="#262626" stroke-width="1.1"/>
<line x1="331.50" y1="597.70" x2="331.50" y2="628.50" stroke="#262626" stroke-width="1.1"/>
<line x1="328.30" y1="588.50" x2="334.70" y2="588.50" stroke="#262626" stroke-width="1.1"/>
<rect x="325.60" y="628.50" width="11.70" height="25.50" stroke="#262626" stroke-width="1.0" fill="none"/>
<line x1="325.60" y1="649.20" x2="337.30" y2="649.20" stroke="#262626" stroke-width="1.1"/>
<text transform="translate(331.50 652.26) scale(0.9 1)" font-size="4.6" font-weight="normal" font-style="normal" text-anchor="middle" fill="#111" stroke="#111" stroke-width="0.42" filter="url(#tb)">n=26</text>
<line x1="349.80" y1="589.60" x2="349.80" y2="593.50" stroke="#262626" stroke-width="1.1"/>
<line x1="349.80" y1="597.70" x2="349.80" y2="642.90" stroke="#262626" stroke-width="1.1"/>
<line x1="346.60" y1="589.60" x2="353.00" y2="589.60" stroke="#262626" stroke-width="1.1"/>
<rect x="344.00" y="642.90" width="11.60" height="11.50" stroke="#262626" stroke-width="1.0" fill="none"/>
<line x1="344.00" y1="653.50" x2="355.60" y2="653.50" stroke="#262626" stroke-width="1.1"/>
<circle cx="349.80" cy="580.80" r="1.1" fill="#262626"/>
<text transform="translate(349.80 649.36) scale(0.9 1)" font-size="4.6" font-weight="normal" font-style="normal" text-anchor="middle" fill="#111" stroke="#111" stroke-width="0.42" filter="url(#tb)">n=27</text>
<line x1="368.10" y1="627.50" x2="368.10" y2="651.20" stroke="#262626" stroke-width="1.1"/>
<line x1="364.90" y1="627.50" x2="371.30" y2="627.50" stroke="#262626" stroke-width="1.1"/>
<rect x="361.50" y="651.20" width="13.10" height="3.80" stroke="#262626" stroke-width="1.0" fill="none"/>
<circle cx="368.10" cy="624.20" r="1.1" fill="#262626"/>
<text transform="translate(368.10 622.46) scale(0.9 1)" font-size="4.6" font-weight="normal" font-style="normal" text-anchor="middle" fill="#111" stroke="#111" stroke-width="0.42" filter="url(#tb)">n=27</text>
<line x1="386.30" y1="591.30" x2="386.30" y2="593.50" stroke="#262626" stroke-width="1.1"/>
<line x1="386.30" y1="597.70" x2="386.30" y2="653.50" stroke="#262626" stroke-width="1.1"/>
<line x1="383.10" y1="591.30" x2="389.50" y2="591.30" stroke="#262626" stroke-width="1.1"/>
<rect x="379.80" y="653.50" width="12.90" height="1.50" stroke="#262626" stroke-width="1.0" fill="#444"/>
<circle cx="386.30" cy="587.10" r="1.1" fill="#262626"/>
<text transform="translate(386.30 585.46) scale(0.9 1)" font-size="4.6" font-weight="normal" font-style="normal" text-anchor="middle" fill="#111" stroke="#111" stroke-width="0.42" filter="url(#tb)">n=16</text>
<rect x="398.50" y="653.50" width="12.70" height="1.00" stroke="#a0a0a0" stroke-width="1.0" fill="none"/>
<text transform="translate(404.80 649.76) scale(0.9 1)" font-size="4.6" font-weight="normal" font-style="normal" text-anchor="middle" fill="#111" stroke="#111" stroke-width="0.42" filter="url(#tb)">n=8</text>
<path d="M331.90 675.30 L331.90 676.50 Q331.90 677.30 332.90 677.30 L385.20 677.30 Q386.20 677.30 386.20 676.50 L386.20 675.30 M358.80 677.30 L358.80 679.30" stroke="#262626" stroke-width="0.9" fill="none"/>
<text transform="translate(359.00 687.66) scale(1.0 1)" font-size="7.4" font-weight="normal" font-style="normal" text-anchor="middle" fill="#111" stroke="#111" stroke-width="0.42" filter="url(#tb)" textLength="50.00" lengthAdjust="spacingAndGlyphs">Weeks of Treatment</text>
<text transform="translate(358.50 577.45) scale(1.0 1)" font-size="8.2" font-weight="bold" font-style="normal" text-anchor="middle" fill="#111" stroke="#111" stroke-width="0.5" filter="url(#tb)" textLength="18.00" lengthAdjust="spacingAndGlyphs">U-β 2-M</text>
<text transform="translate(279.92 621.70) rotate(-90) scale(1.0 1)" font-size="7.0" font-weight="bold" font-style="normal" text-anchor="middle" fill="#111" stroke="#111" stroke-width="0.5" filter="url(#tb)" textLength="50.00" lengthAdjust="spacingAndGlyphs">ng/mg U-Creatinine</text>
<text transform="translate(338.30 589.15)" font-size="8.2" fill="#111" stroke="#111" stroke-width="0.42" filter="url(#tb)" textLength="23.60" lengthAdjust="spacingAndGlyphs"><tspan font-style="italic">P</tspan>=0.0005</text>
</svg></body></html>
